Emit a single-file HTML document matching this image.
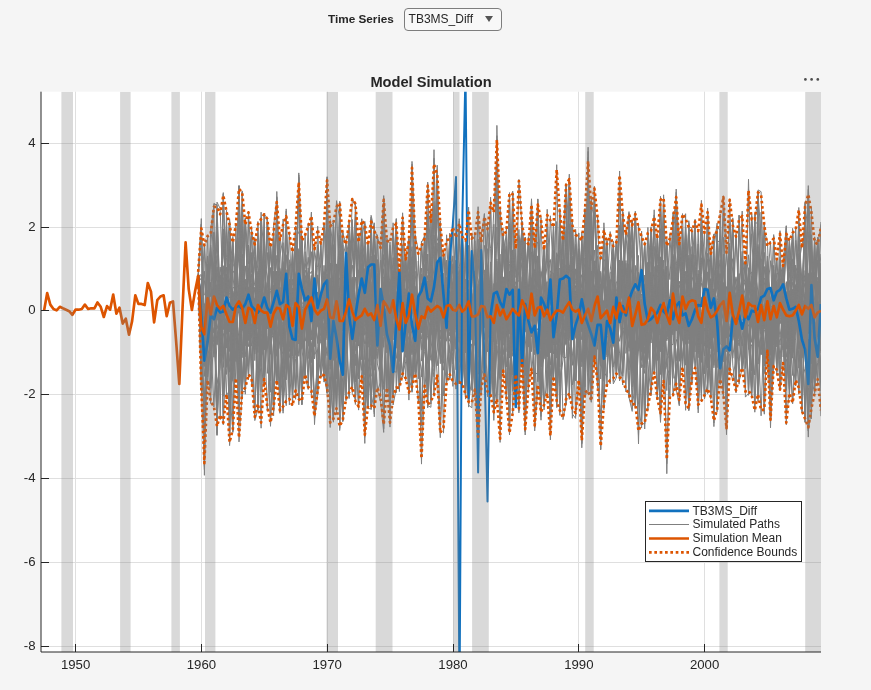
<!DOCTYPE html>
<html><head><meta charset="utf-8"><title>Model Simulation</title>
<style>
html,body{margin:0;padding:0}
body{width:871px;height:690px;background:#f5f5f5;position:relative;overflow:hidden;font-family:"Liberation Sans",Arial,sans-serif}
.lbl{position:absolute;left:328px;top:12px;font-size:11.75px;font-weight:bold;color:#262626;line-height:14px;white-space:nowrap}
.dd{position:absolute;left:404px;top:8px;width:96px;height:21px;border:1px solid #7d7d7d;border-radius:4px;background:#f8f8f8;box-sizing:content-box}
.dd span{position:absolute;left:3.6px;top:3px;font-size:12px;line-height:14px;color:#262626;white-space:nowrap}
.dd i{position:absolute;left:80px;top:7.3px;width:0;height:0;border-left:4.6px solid transparent;border-right:4.6px solid transparent;border-top:6.4px solid #555}
</style></head><body>
<div class="lbl">Time Series</div>
<div class="dd"><span>TB3MS_Diff</span><i></i></div>
<svg width="871" height="690" viewBox="0 0 871 690" style="position:absolute;left:0;top:0">
<defs><clipPath id="ax"><rect x="41.0" y="91.7" width="780.0" height="560.3"/></clipPath></defs>
<rect x="41.0" y="91.7" width="780.0" height="560.3" fill="#fff"/>
<path d="M75.5 91.7V652.0M201.5 91.7V652.0M327.5 91.7V652.0M453.5 91.7V652.0M578.5 91.7V652.0M704.5 91.7V652.0M41.0 646.5H821.0M41.0 562.5H821.0M41.0 478.5H821.0M41.0 394.5H821.0M41.0 310.5H821.0M41.0 227.5H821.0M41.0 143.5H821.0" stroke="#dfdfdf" stroke-width="1" fill="none"/>
<g clip-path="url(#ax)" fill="none" stroke-linejoin="round">
<g stroke="#7f7f7f" stroke-width="1">
<path d="M198.2 275.8l3.1 53.1 3.1 -5.1 3.2 -23 3.1 18.2 3.2 13.3 3.1 -24 3.2 -41.2 3.1 29.4 3.2 -22.4 3.1 44.5 3.2 -2.6 3.1 -11.7 3.1 116.5 3.2 -145.5 3.1 36.2 3.2 -14.4 3.1 74.3 3.2 40.6 3.1 -77.2 3.2 -12.8 3.1 -14.3 3.1 5 3.2 4.3 3.1 12.6 3.2 -27 3.1 1 3.2 31.5 3.1 -112.1 3.2 74.8 3.1 -8.9 3.1 28.5 3.2 9.8 3.1 5.7 3.2 -22.6 3.1 -19.3 3.2 3.7 3.1 25 3.2 20.7 3.1 -22 3.2 -53.1 3.1 56.5 3.1 -7.6 3.2 -4.2 3.1 68.9 3.2 -58.1 3.1 -48.5 3.2 128.6 3.1 -96.6 3.2 7.9 3.1 29 3.2 -32.3 3.1 6.7 3.1 82 3.2 -101 3.1 -0.2 3.2 -6.1 3.1 -30.8 3.2 61.2 3.1 -20.5 3.2 52.7 3.1 -51.7 3.1 14.4 3.2 10.1 3.1 35.7 3.2 -33.7 3.1 2.2 3.2 -57 3.1 116 3.2 -33.4 3.1 -29.3 3.2 -58.1 3.1 38.6 3.1 98.9 3.2 1.7 3.1 -107.8 3.2 21.5 3.1 42.7 3.2 -68.3 3.1 -17.9 3.2 26.5 3.1 2.9 3.1 -2.7 3.2 -65.5 3.1 60.7 3.2 1.2 3.1 -11.4 3.2 95.5 3.1 -113.6 3.2 8.5 3.1 18.4 3.2 77.7 3.1 -45.9 3.1 -44.7 3.2 127.2 3.1 -286.9 3.2 150.7 3.1 69.2 3.2 -99 3.1 51.9 3.2 12.1 3.1 -1.2 3.1 -17.5 3.2 8 3.1 -23.5 3.2 54.8 3.1 -31 3.2 -11.1 3.1 19 3.2 30.3 3.1 -44 3.1 -51.1 3.2 87.8 3.1 23.1 3.2 -42.1 3.1 0.3 3.2 5.4 3.1 -90.7 3.2 110.5 3.1 -73.6 3.2 103.9 3.1 -40.6 3.1 -18 3.2 -41.1 3.1 -1 3.2 47.3 3.1 -9.8 3.2 -9 3.1 14.2 3.2 6.6 3.1 -8.3 3.2 2.4 3.1 -3.4 3.1 -6.4 3.2 -15.2 3.1 -73.3 3.2 96.3 3.1 -2.5 3.2 25.4 3.1 -16.7 3.2 -36.4 3.1 52.4 3.1 -12.4 3.2 -85.5 3.1 163.2 3.2 -56.8 3.1 -18.9 3.2 -17.1 3.1 -3.2 3.2 28.3 3.1 -19.5 3.1 -18.1 3.2 31.6 3.1 -82.8 3.2 52 3.1 30.3 3.2 -18.6 3.1 -0.4 3.2 -1.1 3.1 111.4 3.2 -81.5 3.1 -58 3.1 74.2 3.2 -30 3.1 -28.9 3.2 -0.5 3.1 -49.2 3.2 146.8 3.1 -58 3.2 -30.5 3.1 2.5 3.2 -13.2 3.1 97.6 3.1 -122.5 3.2 106.8 3.1 -87.1 3.2 89.5 3.1 -66.6 3.2 -46.9 3.1 49.1 3.2 11.5 3.1 -30.6 3.1 30.7 3.2 -11.8 3.1 -33.2 3.2 2.4 3.1 36.7 3.2 -86 3.1 125.9 3.2 -62.8 3.1 24.1 3.1 -9.5 3.2 -3 3.1 2.2 3.2 -14 3.1 94.1 3.2 -9.5 3.1 -72.1 3.2 43.5"/>
<path d="M198.2 275.8l3.1 74.4 3.1 75.4 3.2 -161.5 3.1 32.3 3.2 -63.7 3.1 112.4 3.2 -36.3 3.1 50.8 3.2 -69.3 3.1 -47.1 3.2 111.2 3.1 -112.2 3.1 18.5 3.2 48.8 3.1 79.3 3.2 -143.7 3.1 65.1 3.2 27.4 3.1 -38.8 3.2 4.5 3.1 -62.7 3.1 107.8 3.2 -58 3.1 -35.7 3.2 -20.3 3.1 76.4 3.2 27.8 3.1 -127.5 3.2 96.1 3.1 17.8 3.1 -73.3 3.2 58.7 3.1 94.1 3.2 -90 3.1 72.7 3.2 -111 3.1 30.4 3.2 20 3.1 -15.9 3.2 -24.6 3.1 12.7 3.1 -35.5 3.2 55.2 3.1 -54.5 3.2 164.4 3.1 -177 3.2 76.6 3.1 -51.5 3.2 110.8 3.1 -33.1 3.2 53.8 3.1 -131.7 3.1 98.6 3.2 -59.5 3.1 0.2 3.2 4.6 3.1 -2.7 3.2 5.8 3.1 -127.7 3.2 110.2 3.1 -2.1 3.1 -30.3 3.2 47.4 3.1 40.4 3.2 -48.5 3.1 -16.2 3.2 85.1 3.1 -72.8 3.2 -22.5 3.1 23.7 3.2 6.3 3.1 -18.4 3.1 6.9 3.2 50.3 3.1 21.8 3.2 -59.2 3.1 -36.3 3.2 51.2 3.1 -3.1 3.2 -8 3.1 42.5 3.1 -52.6 3.2 31.2 3.1 -35.9 3.2 92.4 3.1 -102.9 3.2 35.1 3.1 59.3 3.2 47.9 3.1 -129.2 3.2 68.1 3.1 -38.4 3.1 -27.8 3.2 20.5 3.1 69.8 3.2 -109.3 3.1 3.9 3.2 18.2 3.1 -72.6 3.2 46.3 3.1 18.5 3.1 104.6 3.2 -133.7 3.1 -9.2 3.2 53.3 3.1 -20.1 3.2 -54.3 3.1 134.7 3.2 -83.7 3.1 -52.4 3.1 91.1 3.2 -36.2 3.1 -74.1 3.2 85.1 3.1 -14.5 3.2 -6.8 3.1 45.3 3.2 -32.9 3.1 3.2 3.2 -14.7 3.1 18.6 3.1 15.8 3.2 18.9 3.1 -30.4 3.2 -27.2 3.1 18.2 3.2 15.5 3.1 32.7 3.2 -130.5 3.1 57.3 3.2 27.7 3.1 76.1 3.1 -6.4 3.2 -87.9 3.1 -65.1 3.2 81.3 3.1 -8 3.2 15.7 3.1 91.5 3.2 -132 3.1 47 3.1 23.8 3.2 -75.9 3.1 -36.9 3.2 120.5 3.1 -14.7 3.2 -30.2 3.1 -111.8 3.2 131.7 3.1 22.8 3.1 -131.9 3.2 50.5 3.1 93.4 3.2 -21.8 3.1 -112.6 3.2 48.2 3.1 -44.2 3.2 49.9 3.1 61.3 3.2 -23.6 3.1 80.3 3.1 -71.3 3.2 -10 3.1 -11.7 3.2 26 3.1 -26 3.2 -14.7 3.1 25.2 3.2 -39.4 3.1 35.3 3.2 15.3 3.1 -39.2 3.1 7.1 3.2 41.6 3.1 -19.4 3.2 -11.6 3.1 106.2 3.2 -92.3 3.1 -14.9 3.2 13.3 3.1 -16.4 3.1 72 3.2 -137.8 3.1 57.8 3.2 3.1 3.1 13.9 3.2 -3.1 3.1 35.3 3.2 60.5 3.1 -93.2 3.1 21.5 3.2 -32.1 3.1 53.8 3.2 83.5 3.1 -91.4 3.2 -88.3 3.1 59.9 3.2 56"/>
<path d="M198.2 275.8l3.1 65.1 3.1 -17.5 3.2 -32 3.1 21.5 3.2 -81 3.1 53.1 3.2 23.8 3.1 -19.8 3.2 -63.8 3.1 62.7 3.2 3.7 3.1 44.8 3.1 -33.2 3.2 -20.2 3.1 42.9 3.2 -57.4 3.1 29.4 3.2 0.5 3.1 9.2 3.2 -95.4 3.1 48.2 3.1 54.7 3.2 11.1 3.1 -100.5 3.2 86.5 3.1 -23.6 3.2 -3.1 3.1 19.5 3.2 46.5 3.1 -27.3 3.1 -26 3.2 -47.8 3.1 56.8 3.2 2.5 3.1 -27.4 3.2 4.7 3.1 21.2 3.2 6 3.1 -1.4 3.2 -20.3 3.1 42.1 3.1 0.3 3.2 -16.7 3.1 58.5 3.2 -46.2 3.1 91.3 3.2 -93.4 3.1 -39.9 3.2 7.3 3.1 24.5 3.2 -0.3 3.1 36 3.1 -131.8 3.2 82.8 3.1 -32.9 3.2 -44.7 3.1 77.4 3.2 90.5 3.1 -120.5 3.2 7.6 3.1 139.2 3.1 -123.1 3.2 2.6 3.1 82.5 3.2 -11.9 3.1 -28.1 3.2 -17.3 3.1 26.6 3.2 -41.5 3.1 12.6 3.2 -21.6 3.1 -2.3 3.1 -120.1 3.2 86.7 3.1 90.6 3.2 -45.4 3.1 44.8 3.2 4.5 3.1 -56.8 3.2 -1.4 3.1 -4.3 3.1 69.1 3.2 -151.1 3.1 93 3.2 -0.9 3.1 -4.5 3.2 10.3 3.1 16.6 3.2 -39.3 3.1 8.1 3.2 5.3 3.1 23.9 3.1 -13.4 3.2 102.6 3.1 -81.9 3.2 -23.3 3.1 39.5 3.2 -37.6 3.1 -4.4 3.2 62.3 3.1 -60.3 3.1 5.5 3.2 -27.3 3.1 3.4 3.2 22 3.1 -3.5 3.2 2.1 3.1 -8.8 3.2 -20.2 3.1 25.4 3.1 14.2 3.2 63.9 3.1 -72.7 3.2 11.9 3.1 24 3.2 -41 3.1 3.4 3.2 -15.8 3.1 -1.8 3.2 20.5 3.1 -87 3.1 96.3 3.2 -59.4 3.1 37.5 3.2 -36.2 3.1 88.4 3.2 -43.6 3.1 0.3 3.2 -14.9 3.1 -60.6 3.2 77.5 3.1 -45.3 3.1 27.5 3.2 -40.1 3.1 39.9 3.2 13.6 3.1 -26.1 3.2 71.1 3.1 -93.4 3.2 85.6 3.1 -29.2 3.1 -80.1 3.2 80 3.1 -13.9 3.2 -41.3 3.1 132.8 3.2 -61.7 3.1 43.8 3.2 -76.2 3.1 1.1 3.1 11.5 3.2 -115.5 3.1 51.6 3.2 42.6 3.1 8.7 3.2 6.3 3.1 -57.2 3.2 60.5 3.1 -14.5 3.2 30.9 3.1 64.3 3.1 -106.2 3.2 -10.2 3.1 36.3 3.2 14 3.1 -47.9 3.2 20 3.1 16.1 3.2 -94.7 3.1 51.1 3.2 118.9 3.1 -177.6 3.1 80.3 3.2 8.4 3.1 14.5 3.2 -12.4 3.1 99.3 3.2 -211.4 3.1 42.4 3.2 129.5 3.1 -28 3.1 65.4 3.2 -130 3.1 49.1 3.2 -19 3.1 9.1 3.2 4 3.1 32.6 3.2 54.3 3.1 -45.3 3.1 -150.6 3.2 103.6 3.1 -15.2 3.2 16.5 3.1 24.7 3.2 -21 3.1 3.6 3.2 96.5"/>
<path d="M198.2 275.8l3.1 27.8 3.1 31.8 3.2 -28.6 3.1 25.3 3.2 0.7 3.1 -20.2 3.2 -8.2 3.1 -11.6 3.2 7.1 3.1 -78.2 3.2 122.1 3.1 -37.9 3.1 136 3.2 -50.3 3.1 -60.8 3.2 48.8 3.1 -71.1 3.2 8.1 3.1 -8.4 3.2 120 3.1 -115.9 3.1 -21.9 3.2 133 3.1 -82.1 3.2 -33.5 3.1 40.4 3.2 5.6 3.1 -63.6 3.2 33.8 3.1 -10.8 3.1 -27.2 3.2 114.4 3.1 -82.1 3.2 -8.1 3.1 48.4 3.2 -61 3.1 6.3 3.2 20 3.1 -12.8 3.2 -21.3 3.1 35.4 3.1 -23.6 3.2 -79.4 3.1 93.5 3.2 3.7 3.1 3.1 3.2 -62.4 3.1 35.2 3.2 -18.2 3.1 58.8 3.2 -18.6 3.1 -1.9 3.1 116.6 3.2 -164.7 3.1 18 3.2 118.9 3.1 -114 3.2 36.4 3.1 -34.9 3.2 9.9 3.1 91.5 3.1 -90.3 3.2 -53.2 3.1 88.3 3.2 -7.8 3.1 27.2 3.2 -2.1 3.1 -67.8 3.2 -39.7 3.1 74.3 3.2 -8 3.1 -78.9 3.1 83.6 3.2 9.7 3.1 -37.6 3.2 -2.3 3.1 66.6 3.2 15.1 3.1 -67.2 3.2 -0.3 3.1 48.4 3.1 -38.6 3.2 2.6 3.1 -82.5 3.2 77 3.1 -7.8 3.2 20 3.1 -37.9 3.2 -35.4 3.1 62.9 3.2 -29.4 3.1 52.3 3.1 -18.4 3.2 -18 3.1 -115.9 3.2 142.2 3.1 -14.2 3.2 -82.4 3.1 173.6 3.2 -92.4 3.1 15.5 3.1 -18.1 3.2 21.3 3.1 103.8 3.2 -113.2 3.1 -27.7 3.2 39.6 3.1 -53.2 3.2 34.4 3.1 19 3.1 -30.4 3.2 111.8 3.1 -85.4 3.2 -15.5 3.1 -27.5 3.2 31.1 3.1 -13.5 3.2 17.8 3.1 -12.9 3.2 -61.3 3.1 138.7 3.1 -147.3 3.2 158.8 3.1 -1.5 3.2 -74.2 3.1 -57.9 3.2 80.7 3.1 108.3 3.2 -148.8 3.1 -7.1 3.2 14.3 3.1 -67.3 3.1 75.2 3.2 -17.7 3.1 -18.7 3.2 27.4 3.1 -82.8 3.2 143 3.1 -46.8 3.2 123.2 3.1 -141.9 3.1 28.6 3.2 -39.2 3.1 -63.1 3.2 83.3 3.1 14 3.2 -2.5 3.1 1.3 3.2 15.2 3.1 -30.4 3.1 -15.6 3.2 19.5 3.1 -70.6 3.2 28 3.1 28.3 3.2 4.8 3.1 -16 3.2 14.6 3.1 55.5 3.2 -117.2 3.1 50.5 3.1 45.7 3.2 -46.1 3.1 20 3.2 -82.8 3.1 2 3.2 65.5 3.1 5 3.2 -9.7 3.1 24.8 3.2 60.1 3.1 -96.7 3.1 16.7 3.2 25 3.1 -24.4 3.2 9.4 3.1 -15.8 3.2 37.2 3.1 -21.7 3.2 107.2 3.1 -106.9 3.1 -0.9 3.2 -39.3 3.1 55.4 3.2 -16.7 3.1 -29.5 3.2 46.7 3.1 -21.4 3.2 -57.6 3.1 68.3 3.1 -54.8 3.2 78.7 3.1 -31 3.2 6 3.1 -5.2 3.2 -20.9 3.1 -43.1 3.2 88.8"/>
<path d="M198.2 275.8l3.1 59.7 3.1 -11.2 3.2 7.1 3.1 -26 3.2 -21.6 3.1 26.3 3.2 -13.2 3.1 99.4 3.2 -186.1 3.1 204.6 3.2 -71.5 3.1 -27.5 3.1 -3.9 3.2 -36.8 3.1 47.3 3.2 -9.4 3.1 -13.4 3.2 -39.6 3.1 45 3.2 -0.4 3.1 -44.2 3.1 48.5 3.2 71.8 3.1 -154.1 3.2 -28.9 3.1 214.5 3.2 -193.2 3.1 78.6 3.2 -15.3 3.1 29.7 3.1 -5.3 3.2 37.3 3.1 -16.1 3.2 -47.3 3.1 58.7 3.2 -6 3.1 -23.5 3.2 81.8 3.1 -78.5 3.2 1.7 3.1 -26.7 3.1 50.4 3.2 9.6 3.1 -38.7 3.2 11.9 3.1 17.9 3.2 -27.6 3.1 -29.7 3.2 -25.6 3.1 -42.3 3.2 125 3.1 -18.5 3.1 122.9 3.2 -198.9 3.1 88.6 3.2 -12.9 3.1 -23.3 3.2 73.1 3.1 -78.9 3.2 14.9 3.1 116.8 3.1 -125.8 3.2 -25.5 3.1 116.6 3.2 -106.8 3.1 40 3.2 -13.7 3.1 -24.6 3.2 -11.7 3.1 59.3 3.2 -34.8 3.1 27.9 3.1 -42.8 3.2 53.9 3.1 -25.3 3.2 -126.5 3.1 117.2 3.2 18.8 3.1 22.2 3.2 -19 3.1 -14.3 3.1 -21.4 3.2 11.5 3.1 4.4 3.2 6.5 3.1 -63.6 3.2 77.5 3.1 3.3 3.2 -42.4 3.1 22 3.2 4 3.1 18.3 3.1 -8.8 3.2 -14.5 3.1 -10.1 3.2 83.5 3.1 -74.8 3.2 14.1 3.1 40.7 3.2 -76.5 3.1 33.6 3.1 5.5 3.2 -39.1 3.1 -43.5 3.2 93.7 3.1 -46.2 3.2 62.1 3.1 -148.4 3.2 119.3 3.1 -35.4 3.1 41.2 3.2 -30 3.1 -70.8 3.2 184 3.1 -88 3.2 -15.2 3.1 3.1 3.2 11.6 3.1 -96.7 3.2 88.8 3.1 58.9 3.1 -70.4 3.2 87.1 3.1 -147 3.2 92.8 3.1 -28.3 3.2 81.5 3.1 -68.2 3.2 54.4 3.1 4.9 3.2 -97.1 3.1 101.5 3.1 -48.7 3.2 -65.8 3.1 33.9 3.2 -1.8 3.1 98.8 3.2 -68.2 3.1 -46 3.2 2.4 3.1 12.7 3.1 130.4 3.2 -111.4 3.1 -18.2 3.2 -89.6 3.1 138.6 3.2 -31.1 3.1 -14.3 3.2 -8.4 3.1 35.9 3.1 -71.2 3.2 71.5 3.1 -10.9 3.2 -14.6 3.1 2 3.2 15.7 3.1 40.9 3.2 -96.8 3.1 45.1 3.2 21.4 3.1 -37.7 3.1 -21.5 3.2 71.2 3.1 -29.3 3.2 -15.9 3.1 -6.6 3.2 12.8 3.1 124.9 3.2 -188.2 3.1 66.2 3.2 14.3 3.1 -10.3 3.1 -20.9 3.2 31.1 3.1 13 3.2 -11 3.1 -111.7 3.2 119.5 3.1 21.3 3.2 -50.9 3.1 26.3 3.1 -25 3.2 23.4 3.1 -15 3.2 -54.2 3.1 49.3 3.2 29.8 3.1 -99.1 3.2 74.8 3.1 61.7 3.1 -57.8 3.2 -4.8 3.1 4.1 3.2 -9.2 3.1 -23.4 3.2 14.9 3.1 -8.4 3.2 6.9"/>
<path d="M198.2 275.8l3.1 53.6 3.1 4.9 3.2 -32.6 3.1 17.2 3.2 -20.2 3.1 119.1 3.2 -103 3.1 -8.8 3.2 36.6 3.1 -20.5 3.2 -9.6 3.1 -5.3 3.1 -121.5 3.2 211.5 3.1 -72.6 3.2 50.1 3.1 -92.5 3.2 -44.5 3.1 172.9 3.2 -100.9 3.1 -9 3.1 16.4 3.2 -1 3.1 94.6 3.2 -132.5 3.1 25.9 3.2 15 3.1 0.2 3.2 -24.1 3.1 39.2 3.1 -33.5 3.2 16.8 3.1 86.4 3.2 -94.3 3.1 -7.6 3.2 -23.3 3.1 62.1 3.2 -26.5 3.1 -14.7 3.2 7.8 3.1 -71.6 3.1 -11.2 3.2 124.9 3.1 60 3.2 -122.1 3.1 -30.3 3.2 -14.1 3.1 36.1 3.2 44.5 3.1 13.1 3.2 -42.2 3.1 39.9 3.1 100.4 3.2 -86.5 3.1 -133.2 3.2 14.6 3.1 91.2 3.2 20 3.1 -42.9 3.2 26.2 3.1 102.7 3.1 -126.3 3.2 47.4 3.1 -52.9 3.2 18.2 3.1 -57.4 3.2 59.3 3.1 -16 3.2 10.1 3.1 33 3.2 116.5 3.1 -70.4 3.1 -27.9 3.2 -28.5 3.1 64 3.2 -90.6 3.1 -8.9 3.2 20 3.1 8.2 3.2 -5.6 3.1 -96.9 3.1 89.6 3.2 71.6 3.1 -81.3 3.2 7.4 3.1 -6.6 3.2 -12.4 3.1 102.3 3.2 -101 3.1 4.6 3.2 7.9 3.1 -38.3 3.1 61.4 3.2 1.1 3.1 0.4 3.2 -120.3 3.1 43.2 3.2 -17.6 3.1 80 3.2 -21.7 3.1 -11 3.1 -0.7 3.2 -18.6 3.1 111.4 3.2 -43.6 3.1 -45 3.2 -15.7 3.1 37.5 3.2 29.8 3.1 73.1 3.1 -85 3.2 28 3.1 -102.5 3.2 75.2 3.1 -15 3.2 -72.7 3.1 -54.3 3.2 111.5 3.1 30.4 3.2 -20.1 3.1 -56.8 3.1 60.7 3.2 -51.3 3.1 49.7 3.2 -0.1 3.1 -0.4 3.2 -17.5 3.1 -5.9 3.2 91.1 3.1 -64 3.2 9.2 3.1 -3.1 3.1 4 3.2 -49.1 3.1 -59.8 3.2 87.4 3.1 -6.6 3.2 94.1 3.1 -174.2 3.2 89 3.1 23.1 3.1 42.9 3.2 -48.4 3.1 23.6 3.2 -31.8 3.1 3.2 3.2 -2.9 3.1 -12.8 3.2 57 3.1 41.8 3.1 -85.7 3.2 72.3 3.1 -59.5 3.2 -11.7 3.1 31.4 3.2 -35.4 3.1 -11.7 3.2 36.6 3.1 -16.4 3.2 -74.1 3.1 41.8 3.1 25.8 3.2 5.7 3.1 -0.2 3.2 -5.5 3.1 -25.6 3.2 16.6 3.1 132.8 3.2 -141.9 3.1 40.9 3.2 -25.3 3.1 13 3.1 -26.9 3.2 -33.5 3.1 76.9 3.2 8.2 3.1 28.9 3.2 -185.1 3.1 1.8 3.2 122.1 3.1 -4 3.1 110.6 3.2 -71.2 3.1 -41.3 3.2 15.9 3.1 -10.5 3.2 -2.5 3.1 -41.4 3.2 -37.6 3.1 47.2 3.1 24.7 3.2 9.4 3.1 -106.6 3.2 25 3.1 78.7 3.2 -0.2 3.1 -0.5 3.2 1"/>
<path d="M198.2 275.8l3.1 57.8 3.1 77.3 3.2 -102.1 3.1 73 3.2 -131.9 3.1 42.6 3.2 70.1 3.1 -128.4 3.2 49 3.1 162.4 3.2 -203.4 3.1 42.8 3.1 -99.1 3.2 165.3 3.1 -40.6 3.2 -10.9 3.1 8.2 3.2 13.6 3.1 -48.8 3.2 119.5 3.1 -178.6 3.1 159.8 3.2 -33.6 3.1 -11.7 3.2 -27.4 3.1 5.4 3.2 13 3.1 4.1 3.2 -7 3.1 -15.4 3.1 -15.5 3.2 -108.3 3.1 155.5 3.2 -80.9 3.1 65 3.2 -33.5 3.1 135 3.2 -23.1 3.1 -102.2 3.2 45.5 3.1 -83.7 3.1 60.5 3.2 84.3 3.1 -115.7 3.2 69.3 3.1 -79.2 3.2 126.1 3.1 -178.8 3.2 85.7 3.1 17.9 3.2 -10.2 3.1 9.1 3.1 -30.6 3.2 -48.2 3.1 66.3 3.2 105.7 3.1 -143.3 3.2 52.2 3.1 96.7 3.2 -116.9 3.1 0 3.1 -35.4 3.2 77.9 3.1 -64 3.2 20.3 3.1 -48.8 3.2 61 3.1 -46.1 3.2 47.1 3.1 42.3 3.2 -73.7 3.1 7.3 3.1 -79.2 3.2 7.4 3.1 99.5 3.2 44.7 3.1 -35.8 3.2 8 3.1 -12.2 3.2 -30.5 3.1 9.9 3.1 8.4 3.2 -10.1 3.1 9.1 3.2 -5.6 3.1 -26.4 3.2 9 3.1 40.9 3.2 74.3 3.1 -141.7 3.2 43 3.1 -27.3 3.1 105.1 3.2 -56 3.1 -192.2 3.2 264.1 3.1 -82.8 3.2 84.3 3.1 -137.6 3.2 -48 3.1 159.1 3.1 1.4 3.2 -85 3.1 -6.3 3.2 31.7 3.1 20.4 3.2 -37.9 3.1 -16.8 3.2 12.9 3.1 30.7 3.1 -20.8 3.2 -9.6 3.1 27.4 3.2 78.4 3.1 -96.1 3.2 -0.3 3.1 2 3.2 -41.8 3.1 59.3 3.2 -12.2 3.1 1 3.1 -2 3.2 -81.4 3.1 81.9 3.2 -106.1 3.1 11.5 3.2 60 3.1 32.2 3.2 -76.9 3.1 79.7 3.2 11.3 3.1 12.6 3.1 -25.6 3.2 -85.1 3.1 74 3.2 6.6 3.1 -6.1 3.2 24.1 3.1 50.6 3.2 -102.2 3.1 60.5 3.1 34.1 3.2 -28 3.1 -9.4 3.2 -44.6 3.1 3.8 3.2 85.8 3.1 -105.3 3.2 25.3 3.1 39.9 3.1 32.6 3.2 22 3.1 16.8 3.2 -114.2 3.1 23.3 3.2 95.9 3.1 -112.6 3.2 53.9 3.1 -62.3 3.2 72.6 3.1 -45.6 3.1 15.2 3.2 -4.3 3.1 -57.5 3.2 18.1 3.1 2.6 3.2 4.8 3.1 -44.3 3.2 50.6 3.1 21 3.2 24.5 3.1 -47.5 3.1 11.6 3.2 20.9 3.1 5.3 3.2 59.7 3.1 -104.7 3.2 -48.4 3.1 58.5 3.2 48.8 3.1 3.7 3.1 -37.7 3.2 48.4 3.1 -51.5 3.2 -33.9 3.1 -2.3 3.2 -47.4 3.1 92.4 3.2 -41.1 3.1 8.9 3.1 77 3.2 -46.1 3.1 97.5 3.2 -109.8 3.1 -18.2 3.2 57 3.1 32.3 3.2 -118.1"/>
<path d="M198.2 275.8l3.1 44 3.1 -48.6 3.2 75.7 3.1 -65.2 3.2 -77.4 3.1 0.4 3.2 106.8 3.1 -9.9 3.2 14.1 3.1 -29.5 3.2 4.6 3.1 14.7 3.1 80.3 3.2 -103.4 3.1 47.1 3.2 -37.6 3.1 14.9 3.2 -49.7 3.1 11.1 3.2 53.1 3.1 -14.8 3.1 -84.3 3.2 116.8 3.1 -32.7 3.2 -50.9 3.1 15.9 3.2 36.5 3.1 53.8 3.2 -4 3.1 -34.4 3.1 -25.7 3.2 -124.6 3.1 176.3 3.2 -73.7 3.1 10.3 3.2 93.7 3.1 -42 3.2 -111.3 3.1 91.5 3.2 -7.9 3.1 -22.6 3.1 57.1 3.2 -35.7 3.1 10.9 3.2 15.3 3.1 -24.5 3.2 13.8 3.1 -28.1 3.2 -76.5 3.1 100.5 3.2 -1.5 3.1 -23.8 3.1 22.5 3.2 -31.4 3.1 79.5 3.2 -59.7 3.1 9.2 3.2 28.9 3.1 -140.9 3.2 126 3.1 -83.6 3.1 41.9 3.2 -34.4 3.1 97.4 3.2 -89.7 3.1 18.1 3.2 37.6 3.1 -20.4 3.2 -60 3.1 91.4 3.2 1.3 3.1 1.2 3.1 -34 3.2 11 3.1 -0.6 3.2 -121.9 3.1 130.7 3.2 -3.9 3.1 -50.8 3.2 70.7 3.1 -53.5 3.1 -39.9 3.2 115.1 3.1 -9.7 3.2 -0.4 3.1 59.9 3.2 -93.4 3.1 81.1 3.2 -87.1 3.1 -41.1 3.2 101.3 3.1 -42 3.1 75.1 3.2 -99.9 3.1 29.3 3.2 -5.4 3.1 -10.7 3.2 -1.9 3.1 14.1 3.2 -12.9 3.1 11.9 3.1 -6.6 3.2 15.2 3.1 -22.6 3.2 81.9 3.1 -86.7 3.2 -54.7 3.1 60.1 3.2 57 3.1 -50.4 3.1 25.2 3.2 80.9 3.1 -92 3.2 -48.2 3.1 23.8 3.2 9.7 3.1 23.4 3.2 3.7 3.1 -82.4 3.2 51 3.1 24.6 3.1 110.5 3.2 -80.3 3.1 -212.4 3.2 206.9 3.1 -52.1 3.2 -11.7 3.1 25.7 3.2 -2 3.1 38.7 3.2 -11 3.1 -93.5 3.1 78.5 3.2 -63.1 3.1 104.8 3.2 -56.9 3.1 -21.3 3.2 -7.9 3.1 68 3.2 -63.7 3.1 27.6 3.1 27.1 3.2 -35.4 3.1 22.8 3.2 -6 3.1 -3.9 3.2 99.4 3.1 -118.6 3.2 64.6 3.1 6.3 3.1 -72.3 3.2 -16 3.1 42.6 3.2 -77.8 3.1 152.5 3.2 -39.4 3.1 -117.8 3.2 48.6 3.1 -7.3 3.2 55.9 3.1 -62.6 3.1 25 3.2 0 3.1 9.2 3.2 -45 3.1 47.8 3.2 15.3 3.1 64.3 3.2 -149 3.1 79.8 3.2 21.7 3.1 -17.1 3.1 -30.8 3.2 56 3.1 -51.2 3.2 13.7 3.1 -0.9 3.2 26.9 3.1 -41.9 3.2 24 3.1 -28.2 3.1 15.8 3.2 -14.5 3.1 69.8 3.2 -57.7 3.1 9 3.2 -27.1 3.1 81.9 3.2 -44.3 3.1 -19.7 3.1 -4.1 3.2 -19.5 3.1 26.1 3.2 -127 3.1 188.5 3.2 15.5 3.1 -116.1 3.2 25.9"/>
<path d="M198.2 275.8l3.1 40.2 3.1 17.3 3.2 -41.6 3.1 67.6 3.2 -93 3.1 54 3.2 -45.5 3.1 30.5 3.2 90.4 3.1 -5.7 3.2 41.1 3.1 -124.2 3.1 4.7 3.2 -7.6 3.1 24.5 3.2 -11.9 3.1 -7.5 3.2 12.7 3.1 -76.8 3.2 65.5 3.1 -97 3.1 5.5 3.2 34.4 3.1 27 3.2 26.2 3.1 1.3 3.2 100.7 3.1 -82.9 3.2 -17.5 3.1 31.3 3.1 -101.7 3.2 53.3 3.1 44.2 3.2 39.9 3.1 14.3 3.2 -84.3 3.1 49.5 3.2 -5.4 3.1 28.1 3.2 -80.5 3.1 2.8 3.1 -80.2 3.2 98.8 3.1 -15.5 3.2 -62.9 3.1 80.1 3.2 -9.6 3.1 -4.7 3.2 17.7 3.1 -88.6 3.2 7.5 3.1 -14.2 3.1 88.5 3.2 -1.3 3.1 25.5 3.2 -51.7 3.1 69.4 3.2 -43.6 3.1 -57.2 3.2 5 3.1 86.3 3.1 -79.8 3.2 -47.8 3.1 121.5 3.2 2 3.1 -51.9 3.2 -42.1 3.1 57.8 3.2 18.7 3.1 5.3 3.2 -91.5 3.1 47.5 3.1 30.9 3.2 80.8 3.1 -75.4 3.2 -83.8 3.1 -16.4 3.2 96.7 3.1 -86.7 3.2 78.4 3.1 68.5 3.1 -93.9 3.2 49.8 3.1 -56.6 3.2 106 3.1 -30.2 3.2 -43.9 3.1 20.5 3.2 -43.7 3.1 16.3 3.2 33.6 3.1 -36.8 3.1 -17.7 3.2 128.1 3.1 -273.6 3.2 164.2 3.1 -11.2 3.2 105 3.1 -58.2 3.2 -24.2 3.1 -29.2 3.1 94.5 3.2 -62.3 3.1 113.8 3.2 -111.5 3.1 -32.2 3.2 -44.4 3.1 75.6 3.2 -22.8 3.1 -33.9 3.1 29.5 3.2 33.4 3.1 18.9 3.2 -179.9 3.1 164.3 3.2 -17.5 3.1 -4.4 3.2 -112.9 3.1 219.8 3.2 4.4 3.1 -165 3.1 41.7 3.2 19.5 3.1 11.4 3.2 75.5 3.1 -76.2 3.2 -53.5 3.1 78.8 3.2 16.5 3.1 -58 3.2 10.9 3.1 -22.7 3.1 7.3 3.2 75.2 3.1 -49.7 3.2 -45.1 3.1 47 3.2 -26.1 3.1 6.6 3.2 -12.8 3.1 -5.6 3.1 29.8 3.2 -42.8 3.1 4.2 3.2 25.2 3.1 23 3.2 1.2 3.1 -21.9 3.2 6.1 3.1 5 3.1 -111.6 3.2 81.2 3.1 10.9 3.2 12.2 3.1 11.7 3.2 -20.5 3.1 -9 3.2 28.5 3.1 -97 3.2 103.4 3.1 -63.2 3.1 122.4 3.2 -75.6 3.1 -5.2 3.2 -3.2 3.1 -18 3.2 6 3.1 23 3.2 49.7 3.1 -41.9 3.2 -94.4 3.1 62.2 3.1 -3.9 3.2 27.4 3.1 7.2 3.2 -7.2 3.1 -99.7 3.2 -18.6 3.1 104.6 3.2 -38.8 3.1 74.9 3.1 79.7 3.2 -108.7 3.1 20.3 3.2 -17.7 3.1 -51.8 3.2 -37.5 3.1 104.6 3.2 -15.1 3.1 -7.9 3.1 -2.2 3.2 -12.3 3.1 -84 3.2 163.2 3.1 -68.5 3.2 16.7 3.1 -12 3.2 -86.2"/>
<path d="M198.2 275.8l3.1 109.5 3.1 84.4 3.2 -179 3.1 22 3.2 -16.6 3.1 137.1 3.2 -117.1 3.1 16.5 3.2 34.8 3.1 -7.3 3.2 -54 3.1 -10.8 3.1 6 3.2 -7.2 3.1 38.9 3.2 -25.5 3.1 2.1 3.2 2.7 3.1 -6.9 3.2 6.8 3.1 1.2 3.1 15.6 3.2 -85.2 3.1 60 3.2 -5.2 3.1 -62.3 3.2 21 3.1 122.6 3.2 -86.7 3.1 12.4 3.1 -79.7 3.2 7.8 3.1 2.5 3.2 105 3.1 -13.1 3.2 -33.8 3.1 8.5 3.2 40.7 3.1 -28.2 3.2 -1.3 3.1 -15 3.1 13 3.2 10.6 3.1 35.3 3.2 -99.7 3.1 -5.7 3.2 59.8 3.1 -42.6 3.2 31.5 3.1 -2.2 3.2 10.3 3.1 20.3 3.1 -32.9 3.2 -7.6 3.1 52.5 3.2 -112 3.1 7.1 3.2 11.1 3.1 -49.8 3.2 93.4 3.1 27.6 3.1 -3.9 3.2 21.8 3.1 54.7 3.2 -88.4 3.1 7.9 3.2 83 3.1 -232.7 3.2 75.6 3.1 91.6 3.2 -25.6 3.1 87.7 3.1 -88.7 3.2 11.9 3.1 -4.2 3.2 14.4 3.1 -17.9 3.2 11.1 3.1 -14.8 3.2 22.1 3.1 -15 3.1 0.9 3.2 -18.2 3.1 48.9 3.2 -38.2 3.1 -34.3 3.2 35.7 3.1 16.9 3.2 6.6 3.1 -19.3 3.2 -21.1 3.1 -38.8 3.1 68.9 3.2 20.8 3.1 -44.9 3.2 19.3 3.1 16 3.2 7.5 3.1 -21 3.2 -27.9 3.1 55.9 3.1 69.6 3.2 -121.1 3.1 78.6 3.2 -52.8 3.1 -29.4 3.2 28.2 3.1 20.7 3.2 -29.9 3.1 14.1 3.1 -17 3.2 -88.5 3.1 61.4 3.2 113.3 3.1 -178.4 3.2 100.5 3.1 -47.7 3.2 51.7 3.1 -18 3.2 -68 3.1 63.1 3.1 -48.4 3.2 76.1 3.1 -163.6 3.2 189.1 3.1 -82.2 3.2 -8.3 3.1 61.7 3.2 37.1 3.1 -49.7 3.2 -23.7 3.1 -0.8 3.1 17.6 3.2 79 3.1 -53.1 3.2 -64 3.1 86.9 3.2 -67.2 3.1 -66.9 3.2 71.5 3.1 0.7 3.1 44 3.2 35.1 3.1 28.9 3.2 -80.4 3.1 10 3.2 -33.7 3.1 14.8 3.2 9.6 3.1 2.8 3.1 -22.9 3.2 -97.1 3.1 119.1 3.2 55 3.1 -59.5 3.2 8.6 3.1 63.1 3.2 -82.8 3.1 53.2 3.2 -19.6 3.1 -35 3.1 18.4 3.2 -26.7 3.1 75 3.2 -63.5 3.1 1.9 3.2 42.7 3.1 -25.6 3.2 -27.6 3.1 11 3.2 25.9 3.1 -23.9 3.1 62.5 3.2 -20.2 3.1 -72.9 3.2 -3.8 3.1 34.1 3.2 27.1 3.1 -74.3 3.2 153.2 3.1 -98.2 3.1 -9 3.2 -10.8 3.1 -35.3 3.2 131.6 3.1 -111 3.2 34.9 3.1 25.7 3.2 -24.7 3.1 -29.7 3.1 108.7 3.2 -109 3.1 -1.2 3.2 146.6 3.1 -147.5 3.2 108.8 3.1 -110.7 3.2 23"/>
<path d="M198.2 275.8l3.1 -51.8 3.1 130.7 3.2 -56.3 3.1 -16 3.2 33.1 3.1 -113.4 3.2 6.6 3.1 97.8 3.2 41.6 3.1 -36.6 3.2 0.1 3.1 -6 3.1 -106.3 3.2 113.1 3.1 -46.5 3.2 50.7 3.1 -24.6 3.2 126.2 3.1 -115.1 3.2 9.7 3.1 7.2 3.1 7.5 3.2 5 3.1 0.6 3.2 49.9 3.1 -58.7 3.2 6.5 3.1 -14 3.2 28 3.1 -18.1 3.1 -42.2 3.2 25.6 3.1 26.5 3.2 -73.1 3.1 13.1 3.2 -5.2 3.1 9.8 3.2 37.4 3.1 -7.2 3.2 -39.8 3.1 39.6 3.1 7.1 3.2 -6.8 3.1 -16.7 3.2 30.6 3.1 -34.5 3.2 22.4 3.1 -30.4 3.2 -17.8 3.1 33.9 3.2 2 3.1 43.3 3.1 38 3.2 25.8 3.1 -104.1 3.2 -49.3 3.1 93.1 3.2 -102.7 3.1 90.8 3.2 -12.2 3.1 -6.6 3.1 -31.2 3.2 30.7 3.1 -15.8 3.2 27.6 3.1 -24.7 3.2 -12.7 3.1 3.2 3.2 11.7 3.1 32.5 3.2 38.5 3.1 -53.3 3.1 84.3 3.2 -195.3 3.1 105.5 3.2 -125.5 3.1 113.2 3.2 8.3 3.1 -22.7 3.2 30.4 3.1 -38.2 3.1 22 3.2 56.9 3.1 -62.5 3.2 -0.4 3.1 -7.1 3.2 -38.8 3.1 68.7 3.2 -20 3.1 -10.7 3.2 36 3.1 -54.6 3.1 97.9 3.2 3.3 3.1 -89.4 3.2 82.9 3.1 -57.5 3.2 75.8 3.1 -72.1 3.2 42.3 3.1 -47.5 3.1 77.4 3.2 -93 3.1 18.5 3.2 6.3 3.1 -24 3.2 20.6 3.1 38.8 3.2 66.8 3.1 -103.9 3.1 20.9 3.2 -6 3.1 -24.3 3.2 95.7 3.1 -68.8 3.2 -4.5 3.1 14.9 3.2 -48.8 3.1 -73.1 3.2 116 3.1 -3.3 3.1 -33.2 3.2 27.6 3.1 -42.4 3.2 -82.6 3.1 152.7 3.2 -24.5 3.1 -14.4 3.2 -8.8 3.1 -14.7 3.2 -63.1 3.1 51.6 3.1 38.8 3.2 -16.9 3.1 -16.8 3.2 30.9 3.1 -55.4 3.2 125.8 3.1 17.7 3.2 -102.7 3.1 120.5 3.1 -129.5 3.2 19.2 3.1 -7 3.2 29.3 3.1 -6.6 3.2 -101.9 3.1 95.3 3.2 149.8 3.1 -129.4 3.1 0.3 3.2 -30.3 3.1 14.4 3.2 -10 3.1 16.2 3.2 -62.6 3.1 81.5 3.2 -133.4 3.1 188.9 3.2 -53 3.1 -74.6 3.1 14.5 3.2 52.6 3.1 -51.1 3.2 112.1 3.1 -80.9 3.2 -74.6 3.1 70.6 3.2 11.7 3.1 -32.7 3.2 -7.7 3.1 85.5 3.1 -13.7 3.2 -46.2 3.1 -28.1 3.2 -8 3.1 -66.4 3.2 105.3 3.1 -8.4 3.2 4 3.1 -46.9 3.1 79.3 3.2 -85.7 3.1 107.9 3.2 -89 3.1 34 3.2 -12.4 3.1 -5.9 3.2 56.7 3.1 -47.1 3.1 -9.2 3.2 2.6 3.1 38.2 3.2 9.1 3.1 57.9 3.2 -172.9 3.1 77.2 3.2 -0.5"/>
<path d="M198.2 275.8l3.1 95.4 3.1 -65.9 3.2 3.5 3.1 -49.1 3.2 11.7 3.1 33.6 3.2 -16.4 3.1 68.8 3.2 -38.6 3.1 20.5 3.2 41.9 3.1 -75.3 3.1 -2.8 3.2 -73.7 3.1 164.8 3.2 -73.9 3.1 11.3 3.2 -91.1 3.1 57.7 3.2 5.3 3.1 9 3.1 9.8 3.2 -4.4 3.1 -9.7 3.2 72.3 3.1 -67.9 3.2 61.8 3.1 -22.5 3.2 -45.1 3.1 18.7 3.1 -23.1 3.2 31.6 3.1 -3.7 3.2 -0.2 3.1 -31.6 3.2 -16.9 3.1 -29.9 3.2 16 3.1 59.2 3.2 -11.6 3.1 12.9 3.1 -15.4 3.2 -91.8 3.1 60.9 3.2 148.6 3.1 -55.8 3.2 -13.3 3.1 -71.3 3.2 21.5 3.1 3 3.2 -71 3.1 88.1 3.1 12.1 3.2 -99.8 3.1 64 3.2 33.4 3.1 48.2 3.2 12.3 3.1 30.5 3.2 -126.7 3.1 6.7 3.1 -89.6 3.2 97.2 3.1 21 3.2 -22.3 3.1 -60 3.2 -20.2 3.1 53.8 3.2 21.1 3.1 3 3.2 11.2 3.1 -18.4 3.1 -33.8 3.2 37.5 3.1 4.3 3.2 -9.8 3.1 43.8 3.2 -31.1 3.1 -10.5 3.2 -6.3 3.1 83.1 3.1 -118.2 3.2 44 3.1 -12.3 3.2 5.7 3.1 -25.4 3.2 36.1 3.1 -3.1 3.2 13.7 3.1 -1 3.2 -45.2 3.1 -14 3.1 28.9 3.2 17.4 3.1 -14.4 3.2 28.5 3.1 42.7 3.2 -66.8 3.1 8.6 3.2 11.3 3.1 11.1 3.1 -93.6 3.2 120 3.1 -117.6 3.2 62.7 3.1 -105.9 3.2 138.8 3.1 -30.5 3.2 11.2 3.1 -3.8 3.1 -3.4 3.2 34.2 3.1 -67.9 3.2 54.5 3.1 -10.4 3.2 -19.5 3.1 15.9 3.2 -8.4 3.1 -5.9 3.2 14 3.1 29 3.1 -23.6 3.2 -6.3 3.1 -143.2 3.2 181.1 3.1 -90.4 3.2 52.4 3.1 8.9 3.2 -6.9 3.1 -11.4 3.2 -10.3 3.1 -48.7 3.1 78.7 3.2 -100.9 3.1 49.2 3.2 16.4 3.1 27.2 3.2 -24.8 3.1 20.4 3.2 -17.7 3.1 31.2 3.1 -19.5 3.2 -28.2 3.1 -8 3.2 40.1 3.1 -21 3.2 -58 3.1 94.7 3.2 -62.6 3.1 101.2 3.1 -149.2 3.2 77.6 3.1 -29.5 3.2 -52.7 3.1 105.2 3.2 10 3.1 13.5 3.2 -59.7 3.1 36.5 3.2 20.2 3.1 -49.9 3.1 38.8 3.2 -3.7 3.1 1.2 3.2 -84 3.1 -0.6 3.2 61.6 3.1 103.4 3.2 -117.2 3.1 25.2 3.2 4.4 3.1 -20.5 3.1 1.4 3.2 0.4 3.1 -27.3 3.2 31.2 3.1 10.6 3.2 15.3 3.1 -46.2 3.2 75.3 3.1 -56.6 3.1 39.8 3.2 2.9 3.1 -36.6 3.2 -5 3.1 6.5 3.2 -18.2 3.1 80.9 3.2 -56.7 3.1 -8.7 3.1 -27.5 3.2 75.9 3.1 -70.2 3.2 20.4 3.1 -57.9 3.2 35.2 3.1 20.6 3.2 -79.1"/>
<path d="M198.2 275.8l3.1 50.9 3.1 18.6 3.2 -42.1 3.1 40.2 3.2 -46.8 3.1 130.7 3.2 -117.9 3.1 -13 3.2 -19.3 3.1 52.2 3.2 -58.4 3.1 47.9 3.1 -15.9 3.2 88.3 3.1 -53.3 3.2 -13.6 3.1 -68.8 3.2 58 3.1 32.8 3.2 -46.8 3.1 3 3.1 12.9 3.2 -72.3 3.1 74.8 3.2 -1 3.1 86.9 3.2 -84.1 3.1 -62.8 3.2 2.9 3.1 69.2 3.1 -7.1 3.2 -12.7 3.1 -6.5 3.2 2.6 3.1 10.5 3.2 75.4 3.1 -78.9 3.2 -7.6 3.1 72.5 3.2 -23 3.1 -55.2 3.1 -1.8 3.2 63.2 3.1 -58.3 3.2 -14.4 3.1 39.9 3.2 -1.1 3.1 -105.9 3.2 62.1 3.1 -5.6 3.2 68.8 3.1 -107.3 3.1 -17.3 3.2 104.5 3.1 -31.7 3.2 -24.9 3.1 61.5 3.2 7.6 3.1 -39.3 3.2 89.3 3.1 -87.3 3.1 -10.3 3.2 34.6 3.1 -3 3.2 -38.6 3.1 36.2 3.2 -13.2 3.1 -101.9 3.2 114.7 3.1 7.9 3.2 5.4 3.1 -44.1 3.1 25.6 3.2 -11.5 3.1 4.3 3.2 -1.6 3.1 -69.8 3.2 82.2 3.1 -53.3 3.2 23.7 3.1 -24.6 3.1 48.2 3.2 -31.9 3.1 15.4 3.2 26.4 3.1 -24 3.2 19.4 3.1 -0.8 3.2 -57.6 3.1 63.4 3.2 41.6 3.1 19.6 3.1 -60 3.2 14.2 3.1 -32.6 3.2 -3.2 3.1 -59.2 3.2 72.4 3.1 -11.9 3.2 27.1 3.1 -26.4 3.1 -66.8 3.2 20.6 3.1 172.6 3.2 -133 3.1 -70.8 3.2 204.5 3.1 -70.3 3.2 -48.8 3.1 -4.8 3.1 -4.6 3.2 45.7 3.1 -16.1 3.2 -67.2 3.1 102.1 3.2 -100.3 3.1 40.3 3.2 -10.2 3.1 68.6 3.2 -39.1 3.1 -29.9 3.1 104.8 3.2 -192.8 3.1 150.7 3.2 0.8 3.1 -54 3.2 -90 3.1 90.2 3.2 14.1 3.1 -7.7 3.2 12.2 3.1 -8.1 3.1 60.8 3.2 -115.3 3.1 46.4 3.2 3 3.1 1.1 3.2 10 3.1 -8 3.2 -11.7 3.1 -13.9 3.1 -45.5 3.2 72.9 3.1 22.9 3.2 -24.6 3.1 -49.4 3.2 86.5 3.1 -48 3.2 32 3.1 -38.7 3.1 98.7 3.2 -23.5 3.1 -58 3.2 -13.5 3.1 12.8 3.2 -40.7 3.1 49.4 3.2 -16.7 3.1 9.7 3.2 -1.3 3.1 -5.5 3.1 -34.2 3.2 -22.8 3.1 71.9 3.2 -91.9 3.1 149.5 3.2 -143.6 3.1 89.7 3.2 -35.3 3.1 26.2 3.2 16.6 3.1 11.4 3.1 -45.2 3.2 -12.4 3.1 -33.5 3.2 56.3 3.1 7 3.2 17.5 3.1 18.7 3.2 -122.9 3.1 10.4 3.1 76.7 3.2 -6.4 3.1 59.1 3.2 -106.1 3.1 34.7 3.2 49.5 3.1 -58.6 3.2 60.4 3.1 -53.6 3.1 34.1 3.2 -9.7 3.1 -26.3 3.2 3.7 3.1 -26.8 3.2 64.1 3.1 48.2 3.2 -121.5"/>
<path d="M198.2 275.8l3.1 50.9 3.1 -0.8 3.2 59.5 3.1 -69.7 3.2 41.5 3.1 -52.7 3.2 2.2 3.1 -63.5 3.2 39 3.1 16.2 3.2 30.1 3.1 -20.6 3.1 0.9 3.2 -4 3.1 83.2 3.2 -101.2 3.1 73.5 3.2 -26.9 3.1 -28.4 3.2 18.1 3.1 -90.7 3.1 80.8 3.2 -45.3 3.1 8.9 3.2 38.6 3.1 -11.6 3.2 -35.2 3.1 41.5 3.2 -2.7 3.1 28.5 3.1 -33 3.2 9.4 3.1 15.8 3.2 -44.1 3.1 -26.7 3.2 39.3 3.1 11.8 3.2 -16.4 3.1 21.3 3.2 -89.5 3.1 26.7 3.1 99 3.2 -60.3 3.1 46.7 3.2 -128.2 3.1 149.8 3.2 -63.4 3.1 -47.6 3.2 89.2 3.1 -93.9 3.2 97.5 3.1 31.1 3.1 -78.3 3.2 10.1 3.1 13.4 3.2 98.3 3.1 -108.7 3.2 23.8 3.1 -19.6 3.2 0 3.1 -67.3 3.1 154.1 3.2 -166.3 3.1 57.2 3.2 20.3 3.1 26.2 3.2 -23.5 3.1 -145.9 3.2 134.8 3.1 61.1 3.2 -44.9 3.1 2 3.1 -87.5 3.2 40 3.1 22.5 3.2 -49.2 3.1 73.7 3.2 -43.5 3.1 38.9 3.2 -11.8 3.1 -15.1 3.1 47.1 3.2 -12.8 3.1 56.9 3.2 -68.7 3.1 -6.2 3.2 19.3 3.1 -12.9 3.2 131.6 3.1 -133.5 3.2 0.4 3.1 13.6 3.1 -30 3.2 -65.8 3.1 89 3.2 40.3 3.1 -122.8 3.2 87.9 3.1 -20.9 3.2 38.9 3.1 -45.9 3.1 58 3.2 -67 3.1 19.8 3.2 9.8 3.1 -109.1 3.2 117.1 3.1 -10.2 3.2 -10.7 3.1 0.2 3.1 58.3 3.2 -40.6 3.1 10.9 3.2 -38.6 3.1 -35.7 3.2 59.5 3.1 -4.8 3.2 -7.8 3.1 118.5 3.2 -123.6 3.1 5.6 3.1 21.3 3.2 -0.7 3.1 4.4 3.2 -2.8 3.1 -72.5 3.2 47.1 3.1 -13 3.2 125.6 3.1 -92.3 3.2 2.2 3.1 -12.7 3.1 56.3 3.2 -47.3 3.1 -53.2 3.2 90.7 3.1 -23.5 3.2 27.6 3.1 -31.9 3.2 -35.5 3.1 22.2 3.1 111.7 3.2 -161.2 3.1 56.6 3.2 0.7 3.1 -66.3 3.2 58.3 3.1 29.6 3.2 -3.2 3.1 -0.2 3.1 -9.1 3.2 -12 3.1 -15.9 3.2 -9.5 3.1 73.4 3.2 -144.5 3.1 105.9 3.2 -106.7 3.1 96.3 3.2 -18.8 3.1 5.1 3.1 -1.6 3.2 -48.7 3.1 62.7 3.2 97 3.1 -111.6 3.2 23 3.1 4.5 3.2 -36.9 3.1 18.7 3.2 17 3.1 -39.5 3.1 10 3.2 60.2 3.1 -85.2 3.2 39.4 3.1 -46.7 3.2 69.3 3.1 -43.7 3.2 25.1 3.1 39.4 3.1 32.6 3.2 -56.5 3.1 -49.3 3.2 108 3.1 -24.6 3.2 -82.2 3.1 25.5 3.2 -7.5 3.1 17 3.1 -12.9 3.2 7.6 3.1 -14.5 3.2 -11.1 3.1 20.5 3.2 -68.9 3.1 3.8 3.2 62"/>
<path d="M198.2 275.8l3.1 100.5 3.1 22.9 3.2 -94.6 3.1 20.8 3.2 -24.8 3.1 134.9 3.2 -120.9 3.1 -120.3 3.2 97.2 3.1 152.1 3.2 -116.7 3.1 -28.8 3.1 -8.3 3.2 -35.6 3.1 31.7 3.2 46.8 3.1 -35.3 3.2 30.6 3.1 0.4 3.2 -83 3.1 138.6 3.1 -46.7 3.2 -3.4 3.1 4 3.2 -66.9 3.1 33.2 3.2 -42.7 3.1 36.8 3.2 23.3 3.1 84.1 3.1 -87.9 3.2 -2.3 3.1 14.3 3.2 -20.2 3.1 -41.7 3.2 43.3 3.1 -5 3.2 8.3 3.1 28.7 3.2 -7.6 3.1 -158.9 3.1 133.9 3.2 2.9 3.1 -21.6 3.2 28.9 3.1 8.9 3.2 -23.5 3.1 25.4 3.2 22.9 3.1 -30.1 3.2 49.5 3.1 -51.7 3.1 13.1 3.2 -8.5 3.1 -13.1 3.2 27.3 3.1 -29.4 3.2 75.6 3.1 -87.3 3.2 28.8 3.1 -21.3 3.1 97.6 3.2 -16.8 3.1 -60.5 3.2 49.8 3.1 -51.2 3.2 67.4 3.1 -100 3.2 61 3.1 -28.2 3.2 -11.1 3.1 25.1 3.1 -59 3.2 30.3 3.1 -3.1 3.2 3.4 3.1 -14.5 3.2 19.3 3.1 -39.2 3.2 21.4 3.1 21.5 3.1 -7.9 3.2 -32.1 3.1 35.5 3.2 -11.9 3.1 -13.4 3.2 27.1 3.1 75 3.2 -79.6 3.1 74.8 3.2 -82.2 3.1 27.5 3.1 -71.5 3.2 62.1 3.1 -4.4 3.2 20.1 3.1 -34.5 3.2 45.4 3.1 5.1 3.2 -162.9 3.1 84.7 3.1 -13.2 3.2 -8.2 3.1 41.2 3.2 79.6 3.1 -125.1 3.2 29.8 3.1 15.6 3.2 116 3.1 -130.3 3.1 -29.2 3.2 78.5 3.1 -18.7 3.2 -34.8 3.1 32.5 3.2 -28.1 3.1 23.2 3.2 -27 3.1 30 3.2 71.2 3.1 -46.4 3.1 -101.9 3.2 79 3.1 -83.9 3.2 44.8 3.1 89 3.2 -74.6 3.1 162.6 3.2 -134.7 3.1 -70.2 3.2 139.6 3.1 -94.9 3.1 86.3 3.2 -74.9 3.1 -13.2 3.2 -18.5 3.1 58.3 3.2 12.2 3.1 64.8 3.2 -55.2 3.1 -34.5 3.1 -71.6 3.2 115.1 3.1 -96.2 3.2 42.3 3.1 27.1 3.2 -134.6 3.1 189.8 3.2 -70.2 3.1 5.7 3.1 -103.9 3.2 -14.7 3.1 38.1 3.2 54.5 3.1 -17.3 3.2 -20.6 3.1 34.8 3.2 3.8 3.1 21.8 3.2 10.8 3.1 17.3 3.1 -134.9 3.2 113.1 3.1 98.6 3.2 -115.2 3.1 -2.7 3.2 -109.3 3.1 59.2 3.2 38.4 3.1 23.4 3.2 21.3 3.1 -27.4 3.1 -8.8 3.2 14.1 3.1 -136.7 3.2 120.5 3.1 34.3 3.2 -142.7 3.1 83.5 3.2 21.7 3.1 -6.3 3.1 9.6 3.2 -6.1 3.1 -13.1 3.2 -2.2 3.1 5.6 3.2 42.9 3.1 -10.7 3.2 17 3.1 -49.2 3.1 -3.4 3.2 43 3.1 -31.8 3.2 -106.3 3.1 72.6 3.2 91.3 3.1 -36.5 3.2 -15.9"/>
<path d="M198.2 275.8l3.1 51 3.1 1.2 3.2 -58.7 3.1 40.9 3.2 31.7 3.1 -56.4 3.2 24 3.1 -4.5 3.2 90.1 3.1 0.4 3.2 -18.7 3.1 -66.5 3.1 44.7 3.2 42.5 3.1 -118.3 3.2 58.9 3.1 -14.4 3.2 96.9 3.1 -11.5 3.2 -151.6 3.1 70.1 3.1 -31.3 3.2 40.1 3.1 -26.7 3.2 -2.7 3.1 1.8 3.2 96 3.1 -34.8 3.2 -62 3.1 -28.8 3.1 34.9 3.2 -22.2 3.1 35.3 3.2 -25.1 3.1 -24.9 3.2 85.4 3.1 -55.2 3.2 8.5 3.1 -2.1 3.2 12.9 3.1 -6.9 3.1 36.4 3.2 3.5 3.1 -159 3.2 17.9 3.1 102.4 3.2 -23.6 3.1 33.4 3.2 62.8 3.1 5.4 3.2 -82.7 3.1 -62.9 3.1 55.6 3.2 38.2 3.1 -30.8 3.2 34.7 3.1 5.2 3.2 -28.4 3.1 -17.5 3.2 15.8 3.1 17.9 3.1 -13.9 3.2 -13.9 3.1 -23.2 3.2 11.8 3.1 -48 3.2 120 3.1 -87.2 3.2 50.9 3.1 -10.9 3.2 -13.9 3.1 -8 3.1 -53.4 3.2 68.8 3.1 29.6 3.2 -45.4 3.1 -3.2 3.2 34.1 3.1 -51.4 3.2 -38.6 3.1 107.2 3.1 -49.4 3.2 -30.6 3.1 109 3.2 -77.3 3.1 -3.1 3.2 67.8 3.1 -100.8 3.2 40.7 3.1 2.4 3.2 -15.3 3.1 3.7 3.1 -11.9 3.2 16.8 3.1 -15.2 3.2 80.3 3.1 -57.9 3.2 3.5 3.1 116.7 3.2 -243.8 3.1 125.7 3.1 34.5 3.2 7.5 3.1 -54.1 3.2 13.4 3.1 -13.8 3.2 19.8 3.1 5.9 3.2 -0.4 3.1 -12.7 3.1 6.8 3.2 -21.7 3.1 13.2 3.2 -6.1 3.1 -5.9 3.2 -28.8 3.1 14.4 3.2 9.9 3.1 12.6 3.2 25.1 3.1 -22.7 3.1 -6 3.2 4.7 3.1 2.1 3.2 52.3 3.1 -24 3.2 -50.3 3.1 3.6 3.2 12.8 3.1 46 3.2 -30.5 3.1 -19.2 3.1 29.9 3.2 -39.4 3.1 17.5 3.2 19.3 3.1 13.8 3.2 -45.3 3.1 7.3 3.2 31 3.1 21.1 3.1 -59.5 3.2 5.7 3.1 5.1 3.2 -96.7 3.1 111.1 3.2 24.8 3.1 -90.7 3.2 58.2 3.1 0.5 3.1 -25.3 3.2 44.8 3.1 20.8 3.2 -61.1 3.1 -45.8 3.2 87.5 3.1 -80.5 3.2 39.8 3.1 54.5 3.2 -35.1 3.1 -29.7 3.1 44.1 3.2 66.4 3.1 -88.7 3.2 41.5 3.1 -55 3.2 97.8 3.1 -72.5 3.2 -11 3.1 46.8 3.2 -32.2 3.1 -16.9 3.1 -4.1 3.2 46.9 3.1 -51.6 3.2 86.8 3.1 -91.6 3.2 12.9 3.1 -96.3 3.2 81.1 3.1 58.4 3.1 -35.2 3.2 -10.5 3.1 41.1 3.2 -90.3 3.1 47.9 3.2 15.3 3.1 30.5 3.2 -91.6 3.1 42.1 3.1 42.8 3.2 -41.1 3.1 -96.5 3.2 102.8 3.1 -10.7 3.2 25.1 3.1 -0.1 3.2 -45.5"/>
<path d="M198.2 275.8l3.1 -57.2 3.1 114.8 3.2 -34.2 3.1 -3.8 3.2 6.3 3.1 -16.8 3.2 -0.2 3.1 63.3 3.2 -2 3.1 -23.5 3.2 -20.9 3.1 1.1 3.1 -58.3 3.2 113.3 3.1 -45.1 3.2 5.7 3.1 -9.1 3.2 9.7 3.1 18.9 3.2 -23.9 3.1 28.8 3.1 -33.6 3.2 43 3.1 -28.8 3.2 -18.2 3.1 20.9 3.2 -48.7 3.1 43.3 3.2 -32.3 3.1 34.4 3.1 12.8 3.2 -26.2 3.1 37.9 3.2 -33.4 3.1 -6.6 3.2 -88.3 3.1 99.3 3.2 -67.7 3.1 54.2 3.2 40.8 3.1 45.1 3.1 -166.5 3.2 196 3.1 -137.7 3.2 -4.6 3.1 37.3 3.2 -1.3 3.1 -11.3 3.2 5.2 3.1 16.1 3.2 4.2 3.1 -8.7 3.1 -48.9 3.2 59 3.1 -22.1 3.2 51.9 3.1 -38 3.2 47.3 3.1 -64.5 3.2 -10 3.1 15.3 3.1 1 3.2 -5.6 3.1 28.2 3.2 -35.3 3.1 83.3 3.2 -74.7 3.1 86.1 3.2 -46 3.1 -34.6 3.2 -69.1 3.1 -7 3.1 74.2 3.2 13.1 3.1 -113.8 3.2 80 3.1 -64 3.2 85.3 3.1 -2.7 3.2 -16 3.1 34.6 3.1 -9.2 3.2 -2.2 3.1 -1.3 3.2 -20.4 3.1 18.1 3.2 1.1 3.1 11.7 3.2 -38.5 3.1 109.2 3.2 -86.3 3.1 7.3 3.1 31.7 3.2 -63.9 3.1 17.2 3.2 141.6 3.1 -156.7 3.2 19.1 3.1 11.3 3.2 34.4 3.1 -36.3 3.1 9.8 3.2 -26.2 3.1 20.7 3.2 -81.7 3.1 114.8 3.2 -67 3.1 30.7 3.2 -5.1 3.1 -14.1 3.1 13.6 3.2 66.1 3.1 -68.1 3.2 4.9 3.1 99.6 3.2 -101.2 3.1 93.9 3.2 -83.5 3.1 -20.1 3.2 6.9 3.1 4.5 3.1 -72.9 3.2 67.3 3.1 14.1 3.2 -3.5 3.1 -11.3 3.2 78.4 3.1 29.5 3.2 -45.6 3.1 -125.8 3.2 81.1 3.1 -14.3 3.1 15.8 3.2 -65.2 3.1 51.2 3.2 80.3 3.1 -113.6 3.2 -33.5 3.1 70.6 3.2 -18 3.1 35.8 3.1 -7.6 3.2 70.6 3.1 -77 3.2 53.6 3.1 -37.2 3.2 -77.8 3.1 41.7 3.2 -17.9 3.1 19.6 3.1 -29.6 3.2 1.4 3.1 61.4 3.2 -57.4 3.1 36.7 3.2 1.1 3.1 -46.8 3.2 -48.6 3.1 126.5 3.2 -127.5 3.1 62.9 3.1 49.1 3.2 -15.5 3.1 -4.5 3.2 -4.8 3.1 4 3.2 41.1 3.1 -29.6 3.2 -53.1 3.1 26.1 3.2 15 3.1 -35.4 3.1 46.6 3.2 -2.8 3.1 -20.5 3.2 -20.7 3.1 28.5 3.2 2.6 3.1 -3.5 3.2 -80.5 3.1 129.2 3.1 -33.3 3.2 -84.6 3.1 81 3.2 71.1 3.1 -77.5 3.2 74.5 3.1 -53.6 3.2 -17 3.1 -72.8 3.1 55.9 3.2 6.7 3.1 -32.4 3.2 35.7 3.1 26.3 3.2 60.9 3.1 -84.5 3.2 5.6"/>
<path d="M198.2 275.8l3.1 61.5 3.1 4.7 3.2 12.8 3.1 -8.9 3.2 -48.7 3.1 15.2 3.2 -3.7 3.1 -70.7 3.2 71.9 3.1 12.2 3.2 48.5 3.1 -36.3 3.1 -40.4 3.2 36.6 3.1 -15.6 3.2 18.9 3.1 -24.9 3.2 14.4 3.1 -45.8 3.2 41 3.1 -1.7 3.1 -7.2 3.2 16.9 3.1 -81.4 3.2 65.2 3.1 10.6 3.2 2.6 3.1 -27.1 3.2 9.3 3.1 6.4 3.1 43.4 3.2 -180.5 3.1 68.1 3.2 66.7 3.1 33.6 3.2 -47.1 3.1 8.7 3.2 88.2 3.1 -82.5 3.2 42.8 3.1 -65 3.1 -25.4 3.2 20.3 3.1 92 3.2 -124.9 3.1 46 3.2 20.4 3.1 -25.8 3.2 -58.4 3.1 91.7 3.2 -7.1 3.1 5.9 3.1 -51.7 3.2 136.6 3.1 -152.1 3.2 92.9 3.1 42 3.2 -9 3.1 -42.6 3.2 -21.6 3.1 -22.7 3.1 80.5 3.2 -70.3 3.1 33.6 3.2 -78.2 3.1 64.9 3.2 -17.7 3.1 -11.6 3.2 -50.7 3.1 87.4 3.2 -16.5 3.1 -79.2 3.1 69.2 3.2 -11.1 3.1 31.2 3.2 49 3.1 62.2 3.2 -120.9 3.1 1.7 3.2 34.4 3.1 1.3 3.1 34.9 3.2 -90.7 3.1 63.8 3.2 -118.3 3.1 76.1 3.2 -86.5 3.1 80.3 3.2 53.1 3.1 2.9 3.2 5.6 3.1 -98.5 3.1 -79.7 3.2 192.7 3.1 -162.9 3.2 88.3 3.1 -13.4 3.2 17.1 3.1 -13.9 3.2 39.7 3.1 -14.1 3.1 2.3 3.2 -28.9 3.1 -7.3 3.2 -58.3 3.1 -12.7 3.2 107 3.1 -14.2 3.2 -28.2 3.1 20.4 3.1 3.5 3.2 50.6 3.1 -29.1 3.2 43.9 3.1 -111.7 3.2 16.1 3.1 -99 3.2 211.6 3.1 -91.4 3.2 -10.2 3.1 -8.5 3.1 40.4 3.2 -17.8 3.1 -151.9 3.2 231.2 3.1 -51.4 3.2 -12.9 3.1 -18.7 3.2 -30 3.1 39.2 3.2 -7.2 3.1 -0.5 3.1 7.8 3.2 -2.7 3.1 -0.4 3.2 0.9 3.1 -50.6 3.2 -40.1 3.1 177.4 3.2 -106 3.1 31.5 3.1 -26.9 3.2 -11.7 3.1 4.3 3.2 -1.7 3.1 57.9 3.2 68.9 3.1 -199.1 3.2 65.9 3.1 64.4 3.1 -92.5 3.2 39 3.1 111 3.2 -131.5 3.1 68.1 3.2 -72.3 3.1 45.7 3.2 0.9 3.1 65 3.2 -55.3 3.1 -50.4 3.1 49.1 3.2 72.9 3.1 -161.9 3.2 -1.9 3.1 55.6 3.2 24.1 3.1 59.9 3.2 -18.7 3.1 -50.6 3.2 -26.2 3.1 59.7 3.1 -40.9 3.2 24.6 3.1 -131.2 3.2 107.7 3.1 -78.8 3.2 115.7 3.1 -57.4 3.2 6.1 3.1 21 3.1 17.2 3.2 19.7 3.1 -45.7 3.2 18.8 3.1 5.4 3.2 -3.6 3.1 21.8 3.2 10.9 3.1 -34.1 3.1 -73 3.2 76 3.1 -22.3 3.2 93 3.1 21.8 3.2 -163.5 3.1 71.7 3.2 65"/>
<path d="M198.2 275.8l3.1 114.3 3.1 -69 3.2 -85.8 3.1 103.6 3.2 68.1 3.1 -65.4 3.2 -55.1 3.1 -16.4 3.2 35.4 3.1 26.4 3.2 -9.7 3.1 -4.7 3.1 -14.8 3.2 -0.5 3.1 23.6 3.2 -49.5 3.1 -49.6 3.2 107.9 3.1 -34.1 3.2 -12.6 3.1 8.5 3.1 19 3.2 20.8 3.1 -51.1 3.2 6.3 3.1 9.9 3.2 38.8 3.1 -49.2 3.2 -0.4 3.1 36.8 3.1 -36.8 3.2 -112 3.1 222.5 3.2 -102.4 3.1 43 3.2 10.6 3.1 -39.3 3.2 -9 3.1 6.6 3.2 28.3 3.1 16.9 3.1 -24.9 3.2 -12.6 3.1 10.2 3.2 65.8 3.1 -149.2 3.2 89.1 3.1 -33.4 3.2 20.3 3.1 10.4 3.2 -14.2 3.1 0.9 3.1 -22.3 3.2 61.4 3.1 19.1 3.2 -146 3.1 75.1 3.2 3.1 3.1 -54 3.2 43.1 3.1 14.9 3.1 58.5 3.2 1.3 3.1 -62.5 3.2 -22 3.1 26.6 3.2 64.4 3.1 10.4 3.2 -52.7 3.1 24.7 3.2 -45.9 3.1 27.4 3.1 -127.9 3.2 110.7 3.1 -5.4 3.2 -49.9 3.1 33.3 3.2 -52.1 3.1 38.2 3.2 -51.4 3.1 106.8 3.1 -31.9 3.2 22.4 3.1 49 3.2 -86.5 3.1 -14 3.2 6.3 3.1 -57.6 3.2 205.9 3.1 -132.6 3.2 12.8 3.1 32.7 3.1 -2.4 3.2 -50.8 3.1 10.9 3.2 -98.1 3.1 91.4 3.2 95 3.1 -118.1 3.2 -29.2 3.1 62.3 3.1 48.1 3.2 -129.5 3.1 143.9 3.2 -56.4 3.1 50.6 3.2 2.9 3.1 2.4 3.2 -103 3.1 14 3.1 30.6 3.2 72.2 3.1 -73.7 3.2 -13.4 3.1 81.3 3.2 -22.4 3.1 -52.5 3.2 -29.2 3.1 31 3.2 -4.7 3.1 41.2 3.1 101.9 3.2 -137.5 3.1 23.4 3.2 -11.8 3.1 -12.5 3.2 -20.8 3.1 58.7 3.2 -88.4 3.1 51.7 3.2 1.8 3.1 -15.3 3.1 -7.4 3.2 3.8 3.1 79.9 3.2 -48.5 3.1 -111 3.2 101.9 3.1 -14.6 3.2 -6.3 3.1 46.3 3.1 0.7 3.2 -8 3.1 -61 3.2 32.7 3.1 -72 3.2 65.9 3.1 -102 3.2 111.4 3.1 49.1 3.1 -131.7 3.2 80.7 3.1 -21.7 3.2 9.1 3.1 19.4 3.2 -12.9 3.1 33.1 3.2 -0.7 3.1 8.7 3.2 -9.8 3.1 23.7 3.1 -45.6 3.2 4 3.1 -79.1 3.2 -4.2 3.1 74.2 3.2 -34.1 3.1 52.8 3.2 -37.8 3.1 28.4 3.2 17.7 3.1 -21.9 3.1 35.5 3.2 -33.3 3.1 -5.6 3.2 35.6 3.1 -30 3.2 -7.5 3.1 19.5 3.2 -14 3.1 -16.8 3.1 -33 3.2 70 3.1 -13 3.2 -22.5 3.1 -16.8 3.2 34 3.1 -12.9 3.2 76 3.1 -54.9 3.1 -96.1 3.2 94 3.1 -115.2 3.2 130.3 3.1 -125.8 3.2 169.8 3.1 -76.4 3.2 6.4"/>
<path d="M198.2 275.8l3.1 -51.1 3.1 108 3.2 -31.5 3.1 69.5 3.2 -73.6 3.1 -24.3 3.2 15.6 3.1 -38.8 3.2 35.9 3.1 36.7 3.2 -12.4 3.1 -5.3 3.1 76.7 3.2 -176.8 3.1 111.9 3.2 17.7 3.1 -29.8 3.2 15.3 3.1 -43.3 3.2 -27.3 3.1 137 3.1 -85.7 3.2 -32.6 3.1 76.6 3.2 36.2 3.1 -74.5 3.2 7.9 3.1 -14.2 3.2 47.6 3.1 -13.5 3.1 -32.3 3.2 -21.8 3.1 -42.2 3.2 69 3.1 10.3 3.2 78.8 3.1 -110.5 3.2 30.3 3.1 -4.1 3.2 21.2 3.1 -58.5 3.1 146.3 3.2 -102.8 3.1 -17.1 3.2 15.2 3.1 105.5 3.2 -108.8 3.1 -13.3 3.2 -18.7 3.1 101.7 3.2 -60.6 3.1 -6.3 3.1 -34.5 3.2 57.3 3.1 -120.8 3.2 96.7 3.1 50.3 3.2 12.2 3.1 7.5 3.2 -78.6 3.1 5.7 3.1 -25.8 3.2 9.3 3.1 42.9 3.2 -68.8 3.1 38 3.2 1.4 3.1 -26.4 3.2 65.6 3.1 55.8 3.2 -31.8 3.1 -19.6 3.1 -38.5 3.2 -2.4 3.1 -1.5 3.2 0.8 3.1 43.6 3.2 -37.4 3.1 6.6 3.2 -89.5 3.1 76.1 3.1 -48.8 3.2 50.7 3.1 29.7 3.2 -75.3 3.1 -47 3.2 101.8 3.1 -2.1 3.2 -6.4 3.1 -75.8 3.2 -21.8 3.1 71.2 3.1 20.5 3.2 106.4 3.1 -66.8 3.2 34.1 3.1 -76.4 3.2 15.2 3.1 -123 3.2 117.5 3.1 -3.5 3.1 5.4 3.2 -15.4 3.1 -62.3 3.2 152.5 3.1 -158.7 3.2 46.1 3.1 42.9 3.2 -102.4 3.1 105.1 3.1 -13.7 3.2 9.6 3.1 62.9 3.2 -61.6 3.1 -85.6 3.2 82.4 3.1 -34.2 3.2 -88.9 3.1 102.3 3.2 -13.6 3.1 -19.2 3.1 25.1 3.2 -69.3 3.1 144.8 3.2 38.7 3.1 -96.4 3.2 71.6 3.1 -37.3 3.2 31.8 3.1 -61.3 3.2 53.5 3.1 -30.9 3.1 -18.6 3.2 -13.6 3.1 -88.3 3.2 102.2 3.1 -16.8 3.2 27.1 3.1 -10.8 3.2 -8.7 3.1 -6.9 3.1 106 3.2 -76.1 3.1 -21.9 3.2 9.5 3.1 16.6 3.2 -134.6 3.1 102 3.2 -58.1 3.1 83.1 3.1 -27.7 3.2 8.4 3.1 19.4 3.2 42.4 3.1 -62.6 3.2 -82.5 3.1 88.6 3.2 -23.4 3.1 28.2 3.2 17.6 3.1 65.1 3.1 -16.2 3.2 -65.4 3.1 -0.9 3.2 -12.9 3.1 -1.1 3.2 8.6 3.1 68.8 3.2 -54.4 3.1 -10.1 3.2 39.6 3.1 -65 3.1 48.7 3.2 52.2 3.1 -85.7 3.2 88 3.1 -159.7 3.2 164.9 3.1 -93 3.2 17.8 3.1 -8.8 3.1 102.3 3.2 -50.2 3.1 -65.8 3.2 -23.9 3.1 -12.4 3.2 126.3 3.1 -84.7 3.2 9.5 3.1 -27.3 3.1 26.7 3.2 -14.4 3.1 -24.8 3.2 15.2 3.1 -49.8 3.2 77.7 3.1 -58.8 3.2 70.8"/>
<path d="M198.2 275.8l3.1 -35.4 3.1 234.9 3.2 -176.9 3.1 38.1 3.2 -40 3.1 -29.6 3.2 22.1 3.1 16.2 3.2 -84.4 3.1 187.1 3.2 -58.1 3.1 -104.2 3.1 49.4 3.2 97.8 3.1 -75.7 3.2 23.5 3.1 -86.3 3.2 32.3 3.1 31.4 3.2 -59.6 3.1 72.2 3.1 -47.9 3.2 32.4 3.1 -0.6 3.2 41.8 3.1 -43.2 3.2 97.7 3.1 -92.5 3.2 81.2 3.1 -111.6 3.1 45.6 3.2 71.3 3.1 -89.2 3.2 -10.9 3.1 9 3.2 -100.1 3.1 81.7 3.2 18.8 3.1 7.7 3.2 60.3 3.1 -95.3 3.1 -0.7 3.2 47.3 3.1 38.9 3.2 -51.1 3.1 86.9 3.2 -96.5 3.1 -30.5 3.2 -53 3.1 87.5 3.2 -0.1 3.1 -21.5 3.1 -40.2 3.2 66.4 3.1 41.4 3.2 -19.6 3.1 8 3.2 -2.7 3.1 -44.8 3.2 -0.4 3.1 9.4 3.1 -11.5 3.2 23.5 3.1 1 3.2 -46.9 3.1 30.6 3.2 -47.6 3.1 38.2 3.2 16.8 3.1 -54.6 3.2 53.6 3.1 -2.9 3.1 0.8 3.2 -32.3 3.1 35.4 3.2 15.9 3.1 -23.3 3.2 19.2 3.1 -39.1 3.2 21.6 3.1 -1 3.1 -75.5 3.2 66.8 3.1 23.6 3.2 -44.8 3.1 89.8 3.2 -46.2 3.1 8.7 3.2 -34.9 3.1 9.5 3.2 -8.7 3.1 -72.8 3.1 108.5 3.2 29.8 3.1 -52.3 3.2 20.7 3.1 -24.5 3.2 7 3.1 -42 3.2 38 3.1 16.9 3.1 26.8 3.2 -53.2 3.1 2.5 3.2 -59.5 3.1 48.8 3.2 -41.2 3.1 -46.8 3.2 145 3.1 -66.4 3.1 -16.1 3.2 -6.9 3.1 55 3.2 -51.8 3.1 58.5 3.2 -8.2 3.1 -6.1 3.2 -125.7 3.1 131.2 3.2 -26.9 3.1 24 3.1 133.4 3.2 -131 3.1 -29.9 3.2 55.5 3.1 -51.5 3.2 28.2 3.1 41.7 3.2 -43.8 3.1 0.9 3.2 30.4 3.1 23.8 3.1 -49 3.2 -19.3 3.1 19.4 3.2 -7.4 3.1 59.1 3.2 -51.8 3.1 -12.1 3.2 -7 3.1 41.5 3.1 -17.1 3.2 -5.3 3.1 -42 3.2 31.5 3.1 12.2 3.2 13.3 3.1 -60.1 3.2 8.9 3.1 49.9 3.1 -50.9 3.2 26.7 3.1 15.4 3.2 13.2 3.1 -122.6 3.2 195.4 3.1 -112.1 3.2 8.9 3.1 -29.1 3.2 52.8 3.1 -32.2 3.1 -3.2 3.2 16.9 3.1 17 3.2 -32.7 3.1 2.8 3.2 -34.5 3.1 69.9 3.2 -40.7 3.1 26.3 3.2 22.8 3.1 -126.8 3.1 74 3.2 -8 3.1 26.7 3.2 -93.6 3.1 52 3.2 56.3 3.1 -17.9 3.2 14.3 3.1 -8 3.1 44.3 3.2 -79.1 3.1 40 3.2 -12.7 3.1 34.6 3.2 -23.5 3.1 -34.7 3.2 76.1 3.1 -24.4 3.1 -67.9 3.2 -19 3.1 -15.6 3.2 95.5 3.1 -33.8 3.2 43.6 3.1 -30.1 3.2 12.9"/>
<path d="M198.2 275.8l3.1 48.6 3.1 -43.7 3.2 14.1 3.1 22.5 3.2 -21 3.1 4.9 3.2 20.1 3.1 -18.1 3.2 -4.5 3.1 -52.3 3.2 185.4 3.1 -90.4 3.1 31.3 3.2 -98.4 3.1 -55.8 3.2 87.2 3.1 3.2 3.2 -21.7 3.1 122.7 3.2 -97 3.1 73 3.1 -74.8 3.2 26.7 3.1 -14.4 3.2 -21.7 3.1 21.9 3.2 -45.6 3.1 27 3.2 -2.4 3.1 -55.9 3.1 64.6 3.2 -44.2 3.1 80.5 3.2 -77.5 3.1 7.5 3.2 18.8 3.1 -8.4 3.2 -43 3.1 23.6 3.2 40.2 3.1 -9.2 3.1 -21.6 3.2 110.6 3.1 -70.9 3.2 -9.2 3.1 0.8 3.2 -65.2 3.1 -18.1 3.2 162.6 3.1 -79 3.2 59.5 3.1 -52.5 3.1 -10.9 3.2 12.3 3.1 -4.8 3.2 -7 3.1 26.3 3.2 3.1 3.1 93.2 3.2 -152.7 3.1 80.1 3.1 29.9 3.2 -89.2 3.1 34.1 3.2 -57 3.1 52.6 3.2 -88.4 3.1 30.6 3.2 43.6 3.1 15.5 3.2 -8.1 3.1 -21.7 3.1 -114.4 3.2 135.4 3.1 25.7 3.2 -58.6 3.1 -11.6 3.2 121.1 3.1 -75.1 3.2 9.4 3.1 -31.5 3.1 3.9 3.2 19 3.1 22.2 3.2 -104.1 3.1 164.7 3.2 -101.1 3.1 14.3 3.2 -106.2 3.1 72.1 3.2 33.2 3.1 3.7 3.1 -0.7 3.2 22.1 3.1 -37.4 3.2 -23.7 3.1 95.2 3.2 -54.3 3.1 -93 3.2 55.6 3.1 44.2 3.1 10.4 3.2 24.9 3.1 41.6 3.2 -120.6 3.1 89.7 3.2 -37.4 3.1 22.1 3.2 -44.6 3.1 12.2 3.1 -102.4 3.2 107.1 3.1 -17.6 3.2 -59.8 3.1 39.1 3.2 126.8 3.1 -17.5 3.2 -178.3 3.1 73.2 3.2 23.3 3.1 -10.3 3.1 51.8 3.2 -23.5 3.1 27.6 3.2 -57.4 3.1 -16.4 3.2 2.9 3.1 9.1 3.2 -0.2 3.1 6 3.2 29.5 3.1 -41.5 3.1 -16.1 3.2 0.3 3.1 -21.4 3.2 59.5 3.1 76.8 3.2 -123.9 3.1 -62 3.2 88.6 3.1 27.1 3.1 -3.1 3.2 -96.4 3.1 90.7 3.2 51.7 3.1 -131.8 3.2 71 3.1 72.8 3.2 -22.9 3.1 -3.5 3.1 -39.9 3.2 73.4 3.1 -76.9 3.2 -83.6 3.1 83.5 3.2 -25.9 3.1 3.9 3.2 45.8 3.1 -61.9 3.2 116.6 3.1 -79.3 3.1 3.6 3.2 -30.8 3.1 30.7 3.2 -2.9 3.1 11.5 3.2 -22.6 3.1 20.3 3.2 -47.5 3.1 -14.7 3.2 46.7 3.1 5.2 3.1 -13.9 3.2 -22.3 3.1 26.1 3.2 5.5 3.1 -83 3.2 0 3.1 67.1 3.2 30.7 3.1 -11.4 3.1 -20.7 3.2 22.8 3.1 -13.4 3.2 91.7 3.1 -80.4 3.2 -0.2 3.1 6.1 3.2 -2.4 3.1 -7.8 3.1 35.6 3.2 14.7 3.1 -47.9 3.2 -109.5 3.1 108.1 3.2 34.9 3.1 -16.8 3.2 -13.6"/>
<path d="M198.2 275.8l3.1 4.6 3.1 71.2 3.2 -61.5 3.1 22.7 3.2 -9.5 3.1 40.7 3.2 -33.7 3.1 19.4 3.2 -28 3.1 131.8 3.2 -146 3.1 0.5 3.1 -2.5 3.2 -58.7 3.1 81.4 3.2 58.3 3.1 -57 3.2 6.3 3.1 7.5 3.2 36.1 3.1 -55.2 3.1 -2.2 3.2 32.6 3.1 -18.1 3.2 -0.6 3.1 6.6 3.2 -3.1 3.1 -49.8 3.2 110.6 3.1 -49.9 3.1 -88.2 3.2 58.5 3.1 26.7 3.2 -37 3.1 43.1 3.2 9.5 3.1 55.5 3.2 -33 3.1 -57 3.2 -22.1 3.1 106.3 3.1 -56.1 3.2 -25.5 3.1 -24.3 3.2 30.2 3.1 103.4 3.2 -97.7 3.1 76 3.2 -90.6 3.1 33.7 3.2 -9.1 3.1 -83.9 3.1 12.4 3.2 47.1 3.1 1.7 3.2 8.6 3.1 -1.8 3.2 9.2 3.1 -126.6 3.2 129.6 3.1 2.9 3.1 -32.7 3.2 -7.7 3.1 22.9 3.2 12.2 3.1 -3 3.2 -5.3 3.1 70.5 3.2 -75.5 3.1 22.5 3.2 -40.8 3.1 16.6 3.1 17.9 3.2 74.6 3.1 -89.9 3.2 3 3.1 3.7 3.2 -27.6 3.1 18.7 3.2 54.1 3.1 -40 3.1 -33.2 3.2 -71.7 3.1 118.3 3.2 -25.4 3.1 -7.4 3.2 64 3.1 -60.3 3.2 4.4 3.1 -11.3 3.2 -89.9 3.1 106.5 3.1 -30.6 3.2 5 3.1 25.9 3.2 12.8 3.1 -78.5 3.2 47 3.1 -109 3.2 158.8 3.1 -56.9 3.1 5 3.2 -76.6 3.1 38.9 3.2 38.5 3.1 -9.9 3.2 24.8 3.1 2.4 3.2 -14.8 3.1 11.4 3.1 -20.5 3.2 -13.8 3.1 30.3 3.2 11.7 3.1 -35.3 3.2 -27.5 3.1 71.6 3.2 -38.4 3.1 6.8 3.2 3.2 3.1 -0.6 3.1 21.9 3.2 -7.7 3.1 -133 3.2 37.6 3.1 117 3.2 50.2 3.1 -74.7 3.2 17.5 3.1 -11.5 3.2 48.3 3.1 -64 3.1 15.1 3.2 -6.2 3.1 -29.1 3.2 -52.7 3.1 10.4 3.2 38.7 3.1 41.9 3.2 -32.1 3.1 35.6 3.1 -36.8 3.2 122.4 3.1 -102.6 3.2 -8.4 3.1 38.4 3.2 -52.7 3.1 -55.8 3.2 94.9 3.1 -11.5 3.1 65.6 3.2 -101.4 3.1 23.8 3.2 21.3 3.1 -94.5 3.2 181.1 3.1 -39 3.2 -28.6 3.1 -48.6 3.2 33.4 3.1 -55.2 3.1 97.3 3.2 -50.2 3.1 -28.9 3.2 39.6 3.1 -114.6 3.2 93.1 3.1 10.1 3.2 -29.1 3.1 -65.9 3.2 135.4 3.1 -67.7 3.1 -38.5 3.2 97.7 3.1 -46.4 3.2 -86.7 3.1 57.2 3.2 128.4 3.1 -93.3 3.2 106 3.1 -115.5 3.1 40.9 3.2 -25.7 3.1 17 3.2 -30.8 3.1 14.7 3.2 32.2 3.1 -28.5 3.2 -9.4 3.1 20.3 3.1 -64.1 3.2 129.5 3.1 -96.4 3.2 18.7 3.1 -82.4 3.2 95.2 3.1 -5.7 3.2 44"/>
<path d="M198.2 275.8l3.1 -48.6 3.1 93.3 3.2 10.8 3.1 -12.1 3.2 13.1 3.1 -97.7 3.2 66.7 3.1 123.3 3.2 -112.7 3.1 -19.3 3.2 -53.1 3.1 58.5 3.1 4.4 3.2 -111.5 3.1 129.5 3.2 0.4 3.1 -15.6 3.2 16.4 3.1 -16.4 3.2 26 3.1 5.3 3.1 -27 3.2 -2.9 3.1 105 3.2 -95 3.1 -48.3 3.2 22.3 3.1 33.3 3.2 -59.3 3.1 88.5 3.1 -29.5 3.2 -142.4 3.1 153.6 3.2 -23.4 3.1 60.6 3.2 -41.3 3.1 28.1 3.2 -43.4 3.1 58.1 3.2 -97.5 3.1 28.7 3.1 28.3 3.2 1.5 3.1 -53.3 3.2 -45.9 3.1 93.3 3.2 -70.2 3.1 -20.1 3.2 8.1 3.1 68.5 3.2 64.1 3.1 -80.6 3.1 20.1 3.2 -4.6 3.1 92 3.2 -82.2 3.1 -20.6 3.2 45.1 3.1 -51.4 3.2 -46 3.1 59.7 3.1 7.5 3.2 -99.5 3.1 170.9 3.2 -64.8 3.1 -6.6 3.2 8.5 3.1 64.2 3.2 -79.8 3.1 -1.6 3.2 40.8 3.1 -85.6 3.1 29.3 3.2 -24.9 3.1 102.3 3.2 -65.2 3.1 -62.6 3.2 11.1 3.1 14.6 3.2 35.9 3.1 3.1 3.1 14.2 3.2 -50.9 3.1 53.9 3.2 -17.2 3.1 95.8 3.2 -26.6 3.1 -136.6 3.2 73.5 3.1 -9.9 3.2 72.5 3.1 -59.4 3.1 -117.1 3.2 185 3.1 18.6 3.2 -86.6 3.1 -0.2 3.2 4 3.1 55 3.2 -5.5 3.1 -26.7 3.1 -50.8 3.2 -72.2 3.1 69.2 3.2 56 3.1 -65.2 3.2 44.2 3.1 -17.9 3.2 -27.7 3.1 -30.2 3.1 65.4 3.2 102.6 3.1 -103.1 3.2 -36.5 3.1 49.1 3.2 -13.9 3.1 80 3.2 -38 3.1 -51.5 3.2 -34.1 3.1 43.8 3.1 109.7 3.2 -102.1 3.1 50.1 3.2 -46.6 3.1 -136.6 3.2 105.3 3.1 27.2 3.2 -37.5 3.1 33.1 3.2 2.4 3.1 -12.6 3.1 5.9 3.2 42.5 3.1 31.1 3.2 -94.8 3.1 107.3 3.2 13.9 3.1 -70.6 3.2 94.8 3.1 -110.8 3.1 -15.6 3.2 -1.3 3.1 -22.4 3.2 36.2 3.1 12 3.2 -29.6 3.1 -17.1 3.2 18.8 3.1 13.2 3.1 -14.7 3.2 -40 3.1 50.8 3.2 -51.3 3.1 146.5 3.2 -135.3 3.1 107.9 3.2 -83.7 3.1 32.9 3.2 -10.3 3.1 -14.4 3.1 6.2 3.2 2.3 3.1 -5.2 3.2 24.1 3.1 49.5 3.2 -61.2 3.1 -10.7 3.2 0.8 3.1 -6.3 3.2 21.4 3.1 4.3 3.1 -74.2 3.2 12.9 3.1 32.5 3.2 2.4 3.1 -29.1 3.2 87 3.1 -29.1 3.2 -57 3.1 6.6 3.1 -43.3 3.2 78.8 3.1 -6.3 3.2 45 3.1 -43.2 3.2 3 3.1 79.6 3.2 -95 3.1 -11.2 3.1 -25.1 3.2 112.3 3.1 -10.9 3.2 -29.3 3.1 24.8 3.2 -123.2 3.1 95.1 3.2 -20"/>
<path d="M198.2 275.8l3.1 48.5 3.1 1.5 3.2 -69.9 3.1 95.1 3.2 -80.6 3.1 33.2 3.2 55.6 3.1 -54.8 3.2 61.4 3.1 -124.1 3.2 103 3.1 -68.6 3.1 -38.6 3.2 83.6 3.1 21.4 3.2 -35.7 3.1 29.9 3.2 -37.6 3.1 4.4 3.2 32.9 3.1 -11.1 3.1 -32.4 3.2 99.3 3.1 -150.8 3.2 143.7 3.1 -74 3.2 35.9 3.1 -115.7 3.2 57.2 3.1 -4.8 3.1 5.9 3.2 16.6 3.1 98.8 3.2 -108.9 3.1 1.1 3.2 -11.4 3.1 10.8 3.2 14.3 3.1 0.9 3.2 50.8 3.1 -185.2 3.1 200 3.2 44.8 3.1 -98.9 3.2 -121.8 3.1 76.4 3.2 47.2 3.1 -28.7 3.2 15.3 3.1 90.6 3.2 -80 3.1 -11.2 3.1 -42.7 3.2 92.2 3.1 49.1 3.2 -19.6 3.1 -88.8 3.2 24.1 3.1 -25.6 3.2 -59.6 3.1 79.7 3.1 40.1 3.2 -50 3.1 15.2 3.2 -34.4 3.1 -1.8 3.2 67.1 3.1 35.6 3.2 -156.9 3.1 15.8 3.2 110.5 3.1 -49 3.1 -5.2 3.2 -14.6 3.1 -142.6 3.2 164.5 3.1 118.7 3.2 -98.8 3.1 -30.3 3.2 -6.8 3.1 37.7 3.1 -66.9 3.2 -0.6 3.1 37.5 3.2 4.8 3.1 -5 3.2 85.9 3.1 -88.5 3.2 55.6 3.1 -42.2 3.2 -41.3 3.1 66.9 3.1 -15 3.2 -34.4 3.1 -152.4 3.2 200.4 3.1 -62 3.2 55.6 3.1 -27.6 3.2 -9 3.1 44.5 3.1 -77.2 3.2 -38.4 3.1 81.3 3.2 8.6 3.1 14.6 3.2 -81.1 3.1 58.7 3.2 58.1 3.1 -64.8 3.1 67.6 3.2 -25.8 3.1 35.8 3.2 -156.9 3.1 193.9 3.2 -84.9 3.1 -7.1 3.2 -8 3.1 8.1 3.2 -22.2 3.1 -42.6 3.1 108.1 3.2 -61 3.1 84.7 3.2 -154.3 3.1 70.1 3.2 7.4 3.1 -40.9 3.2 42.4 3.1 -46.3 3.2 17.4 3.1 -32.2 3.1 78.1 3.2 -29.4 3.1 2.2 3.2 9.3 3.1 -79.6 3.2 107.4 3.1 -64.8 3.2 -21.8 3.1 169.5 3.1 -2.1 3.2 -76.7 3.1 -27.6 3.2 -14 3.1 19.7 3.2 -13.2 3.1 -0.3 3.2 5.3 3.1 -1.4 3.1 -37.5 3.2 53.3 3.1 -6.9 3.2 -10.7 3.1 -2.2 3.2 63.8 3.1 -97.7 3.2 9.6 3.1 30.8 3.2 20.8 3.1 -31 3.1 -94.9 3.2 185.8 3.1 -149.2 3.2 -25.6 3.1 120.7 3.2 2 3.1 -34.7 3.2 -32.9 3.1 87 3.2 26.1 3.1 -92.5 3.1 70.5 3.2 -88.4 3.1 32 3.2 -7.4 3.1 0.5 3.2 25.9 3.1 -25.5 3.2 17.9 3.1 -52.5 3.1 48 3.2 -13.8 3.1 17.8 3.2 -6 3.1 3.6 3.2 -6 3.1 -75.2 3.2 38.6 3.1 29.3 3.1 -86.4 3.2 67.7 3.1 14 3.2 7.4 3.1 38.8 3.2 -34.9 3.1 1.3 3.2 74.9"/>
<path d="M198.2 275.8l3.1 85.3 3.1 -116.9 3.2 52.5 3.1 8.7 3.2 -11 3.1 22.8 3.2 -17.7 3.1 124.9 3.2 -106 3.1 -7.9 3.2 -19 3.1 22.2 3.1 -14.5 3.2 26.9 3.1 -101.8 3.2 88.1 3.1 -38.7 3.2 71.1 3.1 -111.9 3.2 83.4 3.1 14.5 3.1 10.9 3.2 84.6 3.1 -86.5 3.2 -137.8 3.1 68 3.2 37.8 3.1 61.5 3.2 -61.4 3.1 34.9 3.1 47.8 3.2 -94.4 3.1 -59.1 3.2 80.9 3.1 -33.8 3.2 -32.5 3.1 94.6 3.2 -27.4 3.1 -10.9 3.2 -7.9 3.1 39.8 3.1 -25.1 3.2 4.2 3.1 -49.7 3.2 137.7 3.1 -72.2 3.2 -13.2 3.1 -17.4 3.2 -16.4 3.1 45.8 3.2 -98.3 3.1 92.5 3.1 -42.1 3.2 3 3.1 -7 3.2 40.6 3.1 -86.6 3.2 92.6 3.1 -45.7 3.2 22.7 3.1 -3 3.1 -12.5 3.2 49.8 3.1 9 3.2 -103.9 3.1 84.2 3.2 48.5 3.1 -210.2 3.2 162.5 3.1 22 3.2 -59.8 3.1 57 3.1 -13.5 3.2 -59.7 3.1 55.8 3.2 -166.3 3.1 142.1 3.2 -57.2 3.1 55.1 3.2 -0.4 3.1 17.3 3.1 -9.3 3.2 1 3.1 -2.1 3.2 -19.1 3.1 64.3 3.2 -13.1 3.1 47.9 3.2 -152.6 3.1 67.2 3.2 0.6 3.1 10.6 3.1 -43.3 3.2 42.8 3.1 -58.1 3.2 58.7 3.1 -7.2 3.2 9 3.1 114.3 3.2 -173.7 3.1 102.1 3.1 -12.8 3.2 -63 3.1 20.4 3.2 -7.6 3.1 -86.7 3.2 35.2 3.1 -5.7 3.2 68.1 3.1 -61.8 3.1 86.3 3.2 -13.7 3.1 -38.3 3.2 30.6 3.1 -1.4 3.2 7.5 3.1 -88.5 3.2 168.7 3.1 -136.5 3.2 17.5 3.1 29.6 3.1 1.6 3.2 30.6 3.1 -98.2 3.2 -46.8 3.1 124.9 3.2 -76.7 3.1 73.2 3.2 1 3.1 -1 3.2 5.6 3.1 21.2 3.1 7.1 3.2 -160.9 3.1 120 3.2 -9.5 3.1 -8.8 3.2 -73.2 3.1 161.7 3.2 -36.2 3.1 -35.7 3.1 -15.3 3.2 65 3.1 -39.9 3.2 17.1 3.1 -28.9 3.2 -3 3.1 -1.9 3.2 37.9 3.1 -22.1 3.1 -25.2 3.2 35.6 3.1 -10.7 3.2 -9 3.1 -31.2 3.2 11.5 3.1 25.7 3.2 53.7 3.1 -53.2 3.2 22.8 3.1 -10.4 3.1 50.3 3.2 -25.2 3.1 -42.9 3.2 -40.3 3.1 47.1 3.2 -17.8 3.1 17.3 3.2 -118 3.1 107.3 3.2 -27.8 3.1 11 3.1 23 3.2 0.7 3.1 82.2 3.2 -87.6 3.1 -1.8 3.2 -2.8 3.1 7 3.2 -15.5 3.1 -25.9 3.1 78 3.2 -32.9 3.1 1.3 3.2 -19.6 3.1 13.6 3.2 -15.6 3.1 60.5 3.2 -58.3 3.1 -24 3.1 -8.3 3.2 45.3 3.1 0.9 3.2 -9.7 3.1 5.6 3.2 73.2 3.1 -55.7 3.2 -12.2"/>
<path d="M198.2 275.8l3.1 58.2 3.1 42.4 3.2 -75.5 3.1 19.5 3.2 -24.2 3.1 9.1 3.2 1.7 3.1 -41.3 3.2 47.5 3.1 1 3.2 63.3 3.1 -153.1 3.1 87.4 3.2 -25.8 3.1 40.7 3.2 -7.9 3.1 27.3 3.2 -47 3.1 18.2 3.2 -9.7 3.1 -39.6 3.1 32.6 3.2 -56.9 3.1 70.9 3.2 -117.9 3.1 98.4 3.2 39.7 3.1 -30 3.2 96.8 3.1 -45.2 3.1 -56.9 3.2 29.4 3.1 -78.5 3.2 73.6 3.1 -9.1 3.2 -17.9 3.1 25.5 3.2 -8.3 3.1 6.6 3.2 32.6 3.1 38.7 3.1 -15.1 3.2 44.2 3.1 -128.7 3.2 26.7 3.1 11.7 3.2 -18.1 3.1 -17.1 3.2 64.3 3.1 -19.6 3.2 3.9 3.1 -80.5 3.1 95.9 3.2 -78.2 3.1 41.2 3.2 -99.9 3.1 82.6 3.2 20.3 3.1 -86.6 3.2 47.7 3.1 2.5 3.1 50.6 3.2 -64.5 3.1 1.7 3.2 26.6 3.1 25.2 3.2 19.4 3.1 -101.7 3.2 63.5 3.1 18.5 3.2 135.5 3.1 -212.5 3.1 19.8 3.2 40.3 3.1 -106.2 3.2 123.6 3.1 -45.8 3.2 74.4 3.1 -95 3.2 45.2 3.1 -40.9 3.1 49.7 3.2 -18 3.1 -21.6 3.2 58.1 3.1 -128 3.2 132.7 3.1 -46.2 3.2 39.8 3.1 -21.9 3.2 -3 3.1 -33.4 3.1 72.3 3.2 -24.5 3.1 -12.8 3.2 21.6 3.1 -7.1 3.2 -4.3 3.1 -8.7 3.2 77.8 3.1 -78.9 3.1 50.4 3.2 -60.7 3.1 -63 3.2 105.1 3.1 -48.4 3.2 25.3 3.1 -48.3 3.2 46.8 3.1 85.7 3.1 -24.5 3.2 -60.8 3.1 -6.9 3.2 -58.6 3.1 70.7 3.2 -24.1 3.1 45.3 3.2 -112.7 3.1 78.2 3.2 20.8 3.1 -22.6 3.1 -63.4 3.2 91.9 3.1 15.4 3.2 -1 3.1 -21.4 3.2 -33.1 3.1 17.8 3.2 1.5 3.1 -6.9 3.2 -29.5 3.1 30.5 3.1 38 3.2 32.8 3.1 -72.5 3.2 18.9 3.1 -26.5 3.2 16.8 3.1 -13.1 3.2 99.6 3.1 24 3.1 -104.6 3.2 -3.2 3.1 -48.1 3.2 46.4 3.1 81.4 3.2 -142.1 3.1 111.5 3.2 -3.7 3.1 -48.2 3.1 17.4 3.2 -145.8 3.1 131.3 3.2 -34.4 3.1 31.3 3.2 -93.2 3.1 67.3 3.2 23.8 3.1 -45 3.2 122.7 3.1 -80.9 3.1 -6.6 3.2 11.1 3.1 35 3.2 -104.6 3.1 137.5 3.2 -52.6 3.1 -15.5 3.2 -10.6 3.1 14.4 3.2 -27.6 3.1 17.2 3.1 -13.5 3.2 20.7 3.1 28.4 3.2 50.5 3.1 -66.2 3.2 -83 3.1 68.7 3.2 13.4 3.1 -67.2 3.1 56 3.2 -1.2 3.1 7.7 3.2 -31.7 3.1 -26.7 3.2 36.7 3.1 19.8 3.2 32.4 3.1 -30.8 3.1 -17.9 3.2 6.4 3.1 -110.6 3.2 229.1 3.1 -20 3.2 -77.6 3.1 -28.2 3.2 -3.1"/>
<path d="M198.2 275.8l3.1 55.4 3.1 -27.6 3.2 48.7 3.1 -106 3.2 -43 3.1 2 3.2 102.6 3.1 -114.3 3.2 120.6 3.1 -50.3 3.2 60.6 3.1 -20.4 3.1 -16.7 3.2 99 3.1 -61.8 3.2 -104.9 3.1 165.4 3.2 -67.9 3.1 -37.9 3.2 26.3 3.1 4.7 3.1 -57.8 3.2 69.6 3.1 85.3 3.2 -75.4 3.1 -18.5 3.2 4.4 3.1 -3.9 3.2 -5.4 3.1 -47.7 3.1 138.4 3.2 -150.7 3.1 51 3.2 -64.7 3.1 69.2 3.2 -92.1 3.1 93.7 3.2 5.9 3.1 12.6 3.2 -35.8 3.1 34.2 3.1 -5.2 3.2 7.3 3.1 26.6 3.2 -48.8 3.1 18.9 3.2 31.9 3.1 -53.5 3.2 59.5 3.1 -118.2 3.2 67.2 3.1 -89.4 3.1 107.5 3.2 -25.3 3.1 44.4 3.2 -0.7 3.1 -39.3 3.2 14 3.1 -50.8 3.2 40.4 3.1 -26.9 3.1 -7.1 3.2 64.1 3.1 -8.5 3.2 -5.3 3.1 -60.3 3.2 60.5 3.1 -68.7 3.2 33.6 3.1 40.6 3.2 0.5 3.1 -18.1 3.1 16.6 3.2 30.2 3.1 -21.7 3.2 -40.3 3.1 7.7 3.2 -47.9 3.1 124.1 3.2 -84.7 3.1 45.5 3.1 -66.4 3.2 12.3 3.1 21.9 3.2 -50.3 3.1 47.6 3.2 19 3.1 18.4 3.2 -9.2 3.1 -30.9 3.2 -15.3 3.1 -21.8 3.1 51.1 3.2 22.6 3.1 -31.6 3.2 15.6 3.1 -10.2 3.2 9.4 3.1 23.4 3.2 -39.6 3.1 10.8 3.1 -2.8 3.2 21.4 3.1 -32.4 3.2 1.8 3.1 -109 3.2 131 3.1 13.1 3.2 24 3.1 -8.4 3.1 -34.4 3.2 1.7 3.1 48.4 3.2 -89.5 3.1 101.4 3.2 -53.4 3.1 -6.6 3.2 -56.4 3.1 -44.5 3.2 92.7 3.1 -5.3 3.1 19 3.2 -14.4 3.1 -7 3.2 -109.1 3.1 126.1 3.2 -29.9 3.1 51.9 3.2 -40.1 3.1 10.3 3.2 -9 3.1 26 3.1 -96.3 3.2 59.8 3.1 76.2 3.2 -78.9 3.1 9.9 3.2 55.1 3.1 -56.8 3.2 12 3.1 -86.2 3.1 105.5 3.2 -43.8 3.1 13.9 3.2 -1.2 3.1 16 3.2 -3.4 3.1 -10.1 3.2 0.8 3.1 -2.2 3.1 -5 3.2 -109.4 3.1 61.1 3.2 75.1 3.1 -57.2 3.2 31.3 3.1 -4.4 3.2 19.1 3.1 -73.3 3.2 99.1 3.1 -45.1 3.1 28.1 3.2 -73.1 3.1 -19.1 3.2 133.8 3.1 -55.8 3.2 -17.4 3.1 35.7 3.2 -32.7 3.1 42.9 3.2 -19.5 3.1 17.9 3.1 -64.2 3.2 -14.6 3.1 47.8 3.2 -74 3.1 66.3 3.2 35 3.1 -23.9 3.2 38.8 3.1 -49.3 3.1 3.4 3.2 -19.6 3.1 34.9 3.2 25.7 3.1 -35.1 3.2 -65 3.1 68.2 3.2 2.5 3.1 66.1 3.1 -69.6 3.2 -6.3 3.1 37 3.2 -102.4 3.1 78.6 3.2 19.6 3.1 -16.7 3.2 -10.7"/>
<path d="M198.2 275.8l3.1 15.6 3.1 -46.9 3.2 132.4 3.1 -62.1 3.2 -29 3.1 -54.2 3.2 123.6 3.1 -126.4 3.2 66.6 3.1 17.4 3.2 33.7 3.1 -19.8 3.1 19.8 3.2 -75.4 3.1 49.2 3.2 -50.7 3.1 -36.7 3.2 90 3.1 80.9 3.2 -185.6 3.1 131.9 3.1 -29.1 3.2 12 3.1 -102.6 3.2 76 3.1 29 3.2 -59.9 3.1 87.1 3.2 -31.7 3.1 64 3.1 -36.2 3.2 -70 3.1 25.6 3.2 -3.2 3.1 -27.9 3.2 1.4 3.1 40.1 3.2 -10.2 3.1 -8.2 3.2 -83.1 3.1 83.9 3.1 4.1 3.2 -5.2 3.1 104.6 3.2 -99.4 3.1 -24.1 3.2 59.3 3.1 -43.7 3.2 84.8 3.1 -67.3 3.2 -81.5 3.1 73.6 3.1 -4 3.2 4.4 3.1 -0.4 3.2 58 3.1 -49.4 3.2 6.1 3.1 -27.5 3.2 28.8 3.1 -14.9 3.1 6.7 3.2 38.3 3.1 -18.9 3.2 -18.9 3.1 -14.6 3.2 -34.7 3.1 5.3 3.2 38.4 3.1 22.6 3.2 88.1 3.1 -99.6 3.1 -111.9 3.2 56.4 3.1 34.1 3.2 3.4 3.1 -0.3 3.2 4.3 3.1 -6.1 3.2 -6.7 3.1 26.8 3.1 -15.6 3.2 -0.8 3.1 -28.4 3.2 71.6 3.1 -102.1 3.2 66 3.1 7.4 3.2 -9.8 3.1 -74.1 3.2 68.6 3.1 0.9 3.1 17.6 3.2 72.2 3.1 -126.5 3.2 42.3 3.1 -68.7 3.2 66.1 3.1 122.1 3.2 -185 3.1 74.4 3.1 -26.3 3.2 -75.5 3.1 56.9 3.2 67.7 3.1 -53 3.2 109.3 3.1 -114.2 3.2 6 3.1 53.3 3.1 -47.6 3.2 -12.5 3.1 4.4 3.2 33.7 3.1 3.2 3.2 27.4 3.1 0.7 3.2 -61.9 3.1 13.7 3.2 -40.8 3.1 38 3.1 21.9 3.2 37 3.1 -166.6 3.2 120.1 3.1 -13.2 3.2 21.3 3.1 39 3.2 -65.7 3.1 34.3 3.2 -24.6 3.1 -13.3 3.1 25.1 3.2 -151.1 3.1 132.9 3.2 -40.6 3.1 58.8 3.2 44.4 3.1 -93.5 3.2 28.1 3.1 39.5 3.1 -56.8 3.2 38.9 3.1 -22.1 3.2 15.6 3.1 22.6 3.2 -30.2 3.1 15.3 3.2 139.8 3.1 -131.2 3.1 -76.5 3.2 9 3.1 -23.4 3.2 25.9 3.1 -31.2 3.2 63.2 3.1 7.6 3.2 -13.7 3.1 51.8 3.2 -47.4 3.1 8.6 3.1 -0.3 3.2 32.9 3.1 -22.6 3.2 -33.2 3.1 23.6 3.2 11.4 3.1 -0.1 3.2 -52 3.1 49.5 3.2 39.2 3.1 5.6 3.1 -22.5 3.2 -42.1 3.1 7.8 3.2 -6.6 3.1 -25.7 3.2 45 3.1 -22.6 3.2 35.8 3.1 11.5 3.1 -34.4 3.2 -0.2 3.1 2.7 3.2 28.3 3.1 -27.1 3.2 -77.9 3.1 103.5 3.2 -21.1 3.1 -49.7 3.1 42.4 3.2 6.2 3.1 108.4 3.2 -139.9 3.1 32 3.2 -37.6 3.1 36.4 3.2 3.8"/>
<path d="M198.2 275.8l3.1 42.4 3.1 19.7 3.2 -30.1 3.1 -52.6 3.2 10.3 3.1 38.6 3.2 -18.7 3.1 -7.8 3.2 22.3 3.1 21.8 3.2 0 3.1 -22.2 3.1 -13.4 3.2 14.5 3.1 30.7 3.2 -23.2 3.1 -5.7 3.2 51.5 3.1 -48.9 3.2 -14.7 3.1 20.6 3.1 5.2 3.2 10.6 3.1 -4.3 3.2 -51.1 3.1 43.8 3.2 78 3.1 -43.4 3.2 -45.2 3.1 19.3 3.1 -12 3.2 44.5 3.1 -26.7 3.2 -3.8 3.1 -7.4 3.2 -20.9 3.1 -51.3 3.2 63.9 3.1 14.1 3.2 -9.5 3.1 -12.8 3.1 125.6 3.2 -182.8 3.1 26.3 3.2 72.3 3.1 -22.3 3.2 -29.9 3.1 -10.7 3.2 92.3 3.1 -170.4 3.2 133.9 3.1 44.3 3.1 -85.7 3.2 30.8 3.1 -106.7 3.2 104.3 3.1 -88.5 3.2 92.1 3.1 -24.9 3.2 -61.7 3.1 85.5 3.1 -16.8 3.2 -55.5 3.1 76.2 3.2 -35.1 3.1 55.8 3.2 -106.4 3.1 7.5 3.2 57.6 3.1 4.9 3.2 17.9 3.1 -7.5 3.1 57.4 3.2 -76.2 3.1 -70.4 3.2 35.3 3.1 12.1 3.2 22.6 3.1 24.3 3.2 12 3.1 -45.4 3.1 13.3 3.2 -32.5 3.1 37.3 3.2 19.2 3.1 -40.4 3.2 34.8 3.1 45.4 3.2 -40 3.1 -5.6 3.2 8.2 3.1 -9.8 3.1 -46.5 3.2 -69.3 3.1 -53.5 3.2 167.5 3.1 -47.3 3.2 42.5 3.1 -14 3.2 -112.1 3.1 119.6 3.1 -133.3 3.2 49.1 3.1 103.6 3.2 -24.6 3.1 -4.1 3.2 9.3 3.1 28.6 3.2 -27.4 3.1 -17.6 3.1 -0.5 3.2 140.2 3.1 -210.5 3.2 132.5 3.1 -51.6 3.2 -2.4 3.1 18.2 3.2 -16.1 3.1 6.8 3.2 -7.3 3.1 -18.2 3.1 -12.8 3.2 35.1 3.1 -150.2 3.2 187.3 3.1 -148.3 3.2 101 3.1 5.2 3.2 10.6 3.1 -5.2 3.2 30.3 3.1 -38 3.1 -61.5 3.2 60.1 3.1 10.6 3.2 0.8 3.1 -31.7 3.2 46.5 3.1 -12.9 3.2 -89.3 3.1 50.7 3.1 22.6 3.2 54.6 3.1 -33.1 3.2 -8.3 3.1 -10.9 3.2 -26.6 3.1 30.6 3.2 -60.5 3.1 80.6 3.1 -78 3.2 -6.4 3.1 20.7 3.2 33.3 3.1 1.9 3.2 78.2 3.1 -0.5 3.2 -63.5 3.1 -11.5 3.2 -21.7 3.1 20.9 3.1 95.5 3.2 -85.3 3.1 -48.4 3.2 127.9 3.1 -65.3 3.2 9.3 3.1 27 3.2 15.7 3.1 -41.9 3.2 8.4 3.1 -26 3.1 -42.5 3.2 51 3.1 -44.3 3.2 15.6 3.1 28.4 3.2 74.1 3.1 -60.1 3.2 25.6 3.1 -106.9 3.1 81.7 3.2 -7.8 3.1 -16.6 3.2 -10.3 3.1 22.4 3.2 -43.8 3.1 12 3.2 18.4 3.1 12.8 3.1 3.5 3.2 84.2 3.1 -113.5 3.2 1.3 3.1 36.6 3.2 -19.7 3.1 -79.8 3.2 113.6"/>
<path d="M198.2 275.8l3.1 104.7 3.1 -59.8 3.2 -15.5 3.1 17.7 3.2 -40.6 3.1 23.8 3.2 -30.6 3.1 17.7 3.2 -26 3.1 53.7 3.2 111.6 3.1 -173.5 3.1 162 3.2 -156 3.1 54.6 3.2 26.9 3.1 -37 3.2 -8.5 3.1 40.4 3.2 -31 3.1 16.3 3.1 84 3.2 -69 3.1 -70.5 3.2 16.8 3.1 20.8 3.2 10.8 3.1 -15.6 3.2 -71.7 3.1 91.9 3.1 -98.2 3.2 43.5 3.1 78.8 3.2 30.5 3.1 -89.9 3.2 51 3.1 -28.8 3.2 3.7 3.1 5.2 3.2 -21.4 3.1 4.2 3.1 18.2 3.2 30.3 3.1 -46.2 3.2 55.8 3.1 -40.1 3.2 -47.8 3.1 -0.7 3.2 29.8 3.1 63.5 3.2 -76.4 3.1 -2.9 3.1 -63.7 3.2 186 3.1 0.1 3.2 -84.3 3.1 -46.8 3.2 75.4 3.1 -43.3 3.2 -72 3.1 50 3.1 109.3 3.2 -77.9 3.1 -24 3.2 19.1 3.1 -0.5 3.2 1.2 3.1 38.5 3.2 -30.2 3.1 -26.5 3.2 -13.9 3.1 44.8 3.1 -73.6 3.2 74.2 3.1 -24.2 3.2 2 3.1 -85.1 3.2 93.2 3.1 -2.7 3.2 68.7 3.1 -51.8 3.1 0.7 3.2 -3.7 3.1 9.5 3.2 -9.8 3.1 82.1 3.2 -113.6 3.1 22.5 3.2 -5.1 3.1 -2.2 3.2 -2.1 3.1 13.1 3.1 29.3 3.2 35 3.1 -79.7 3.2 -25.4 3.1 28.6 3.2 -56.3 3.1 135.2 3.2 -74.1 3.1 10 3.1 -72.7 3.2 -15.1 3.1 85.8 3.2 -17.6 3.1 -6.8 3.2 58.8 3.1 -46.3 3.2 38.9 3.1 -78.9 3.1 27.5 3.2 -21.5 3.1 34.6 3.2 96.5 3.1 -119.1 3.2 25.7 3.1 91.9 3.2 -102.7 3.1 -22.3 3.2 -32.9 3.1 89.8 3.1 -31.9 3.2 5.6 3.1 0.5 3.2 14.3 3.1 -32.2 3.2 -6.7 3.1 22.6 3.2 13.3 3.1 65.6 3.2 -114.5 3.1 1.9 3.1 -35.1 3.2 63.9 3.1 -15.9 3.2 -56.9 3.1 57.9 3.2 -68.1 3.1 90.3 3.2 15.7 3.1 -91.4 3.1 89 3.2 -6.9 3.1 -2.6 3.2 -4.5 3.1 82.2 3.2 -24.9 3.1 -12.6 3.2 -59.9 3.1 29.7 3.1 -64.3 3.2 125 3.1 -50.5 3.2 -91.6 3.1 88.8 3.2 74.8 3.1 -89.3 3.2 -12.3 3.1 11.4 3.2 85.5 3.1 -141.8 3.1 -20.9 3.2 69.1 3.1 18.2 3.2 -5 3.1 32.9 3.2 43.1 3.1 -110.8 3.2 5.6 3.1 40.1 3.2 -24.4 3.1 -6.5 3.1 -7 3.2 55.5 3.1 -50.3 3.2 17.9 3.1 -30 3.2 15.9 3.1 -8.1 3.2 31.9 3.1 -66.3 3.1 41.1 3.2 -32.1 3.1 32.6 3.2 -11.7 3.1 15.9 3.2 51.6 3.1 30.8 3.2 -45.8 3.1 -44.9 3.1 -22.3 3.2 37.1 3.1 -7.8 3.2 -106.9 3.1 114.2 3.2 74.1 3.1 -24.3 3.2 -46.9"/>
<path d="M198.2 275.8l3.1 31.8 3.1 8.5 3.2 -15.4 3.1 -5.9 3.2 2 3.1 32.1 3.2 -12.8 3.1 -33.7 3.2 -1.9 3.1 91.7 3.2 -12.7 3.1 -54.3 3.1 -119.6 3.2 159.1 3.1 12.1 3.2 -56.4 3.1 0.5 3.2 35.9 3.1 -31.7 3.2 -3.6 3.1 72.2 3.1 -61.1 3.2 2.2 3.1 -25.7 3.2 -30.2 3.1 50.3 3.2 67.9 3.1 -122.4 3.2 36.2 3.1 47.5 3.1 -64.2 3.2 -12.9 3.1 68.2 3.2 48 3.1 -65.3 3.2 5.1 3.1 20.4 3.2 -22.9 3.1 21.8 3.2 41.7 3.1 -198.6 3.1 186 3.2 -83.8 3.1 -79.4 3.2 103.6 3.1 15.9 3.2 -46.9 3.1 42.1 3.2 -29.2 3.1 50 3.2 -22.9 3.1 0.3 3.1 -41.3 3.2 108.3 3.1 -14.4 3.2 -101.5 3.1 33.8 3.2 -40.1 3.1 87.1 3.2 -42.9 3.1 -2.4 3.1 -67.6 3.2 84.9 3.1 -50.5 3.2 17.2 3.1 37.3 3.2 8.8 3.1 -64.8 3.2 106.6 3.1 -20.6 3.2 -79.1 3.1 51.1 3.1 -13.3 3.2 -6.1 3.1 -59.6 3.2 44.4 3.1 58.9 3.2 -18 3.1 -50.9 3.2 25 3.1 15.6 3.1 -30.5 3.2 -22 3.1 -34.2 3.2 108.5 3.1 -22.8 3.2 12.5 3.1 -21.2 3.2 15.1 3.1 -47 3.2 100.4 3.1 -91.1 3.1 40.5 3.2 -3.2 3.1 -43.7 3.2 30.4 3.1 18.8 3.2 -72.9 3.1 38.7 3.2 21.9 3.1 -70.6 3.1 104.3 3.2 -22.8 3.1 -18.1 3.2 1.2 3.1 -20.4 3.2 47.5 3.1 13.2 3.2 42.8 3.1 -130.7 3.1 37.7 3.2 43.6 3.1 -74 3.2 20.5 3.1 24.8 3.2 9.8 3.1 -75.2 3.2 42.8 3.1 -54.9 3.2 65.9 3.1 12.8 3.1 20.1 3.2 -130.2 3.1 94.3 3.2 13.3 3.1 -130.9 3.2 103 3.1 76.5 3.2 -49.2 3.1 16.7 3.2 -19.4 3.1 32 3.1 -19.9 3.2 -3.3 3.1 -0.6 3.2 -6.9 3.1 -77.1 3.2 90.3 3.1 44.1 3.2 -64.6 3.1 -2.1 3.1 8.1 3.2 2.6 3.1 -86.3 3.2 41.6 3.1 50.6 3.2 -65.6 3.1 90.2 3.2 -29.1 3.1 25.4 3.1 -51 3.2 -69.2 3.1 108 3.2 -97 3.1 109.3 3.2 -88.2 3.1 112.2 3.2 -48.8 3.1 -32.2 3.2 37 3.1 -26.8 3.1 13.1 3.2 6.3 3.1 1.3 3.2 26.8 3.1 -36 3.2 -7.7 3.1 51.4 3.2 -68 3.1 -49.4 3.2 143.8 3.1 -59.3 3.1 -20.4 3.2 18.7 3.1 -14.8 3.2 21.3 3.1 -17.6 3.2 15.9 3.1 -16.4 3.2 -53.2 3.1 48.2 3.1 85.5 3.2 -35 3.1 -42 3.2 -1.1 3.1 9.8 3.2 60.6 3.1 -58.5 3.2 -4 3.1 7.3 3.1 -13.3 3.2 -14 3.1 -13 3.2 11.8 3.1 12.2 3.2 54.2 3.1 -64.1 3.2 -43.1"/>
<path d="M198.2 275.8l3.1 -1.2 3.1 20.2 3.2 1.1 3.1 13.3 3.2 -12.6 3.1 -41.1 3.2 164.1 3.1 -227 3.2 98.3 3.1 37.1 3.2 -6 3.1 39.6 3.1 -32.2 3.2 -17.9 3.1 -92.5 3.2 104.9 3.1 -37.7 3.2 36.4 3.1 -13.2 3.2 -91.7 3.1 162.4 3.1 -96.7 3.2 -36.8 3.1 63.4 3.2 -1.9 3.1 -0.4 3.2 -5 3.1 103 3.2 -98.6 3.1 10.7 3.1 -9.5 3.2 -10 3.1 25.5 3.2 -28.6 3.1 37.2 3.2 -23.9 3.1 10 3.2 -43.7 3.1 33.7 3.2 54.1 3.1 -16.9 3.1 -119.7 3.2 -3.3 3.1 135.6 3.2 -156.6 3.1 118.3 3.2 -51.4 3.1 -29.5 3.2 77.3 3.1 7.3 3.2 -81.8 3.1 93.8 3.1 -90.1 3.2 66 3.1 1.3 3.2 -39.8 3.1 25.2 3.2 45.5 3.1 45.7 3.2 -83.6 3.1 -1.2 3.1 -47.1 3.2 135.1 3.1 -96.5 3.2 -83.4 3.1 65.7 3.2 19 3.1 -6 3.2 15.9 3.1 15.8 3.2 15.7 3.1 -20.1 3.1 -13.2 3.2 13.9 3.1 47.2 3.2 -16.7 3.1 -51.2 3.2 11.5 3.1 -4.9 3.2 30.7 3.1 -48.3 3.1 28 3.2 67.9 3.1 -127.2 3.2 111.4 3.1 37.2 3.2 2.7 3.1 -85.2 3.2 120 3.1 -121.2 3.2 -76 3.1 20.7 3.1 46.2 3.2 87.2 3.1 -88.1 3.2 8.9 3.1 -17.5 3.2 17.1 3.1 -12.4 3.2 83.8 3.1 -68.5 3.1 -93.4 3.2 110.6 3.1 -53.1 3.2 -45.9 3.1 37.9 3.2 103.8 3.1 -126.4 3.2 155.9 3.1 -99.5 3.1 3.4 3.2 -45.3 3.1 3.3 3.2 33.7 3.1 -90.1 3.2 70.7 3.1 27.7 3.2 16.5 3.1 -112.2 3.2 98.7 3.1 -15 3.1 19.9 3.2 -1.1 3.1 49 3.2 -49.8 3.1 -15.7 3.2 -36.6 3.1 62.6 3.2 48.9 3.1 -42.2 3.2 -16.1 3.1 -18.1 3.1 -2.1 3.2 5.3 3.1 -8.5 3.2 12 3.1 -85.3 3.2 99.7 3.1 -12.9 3.2 -20.7 3.1 -10.8 3.1 71.9 3.2 -25.8 3.1 -100.9 3.2 147.5 3.1 -97 3.2 -9.8 3.1 35.6 3.2 -63.9 3.1 40.4 3.1 -61.1 3.2 8.5 3.1 72.6 3.2 40.8 3.1 -96.7 3.2 52.6 3.1 41 3.2 -36.2 3.1 -3.3 3.2 -14.6 3.1 13.1 3.1 22.5 3.2 -15.7 3.1 35.1 3.2 -27.1 3.1 -25.9 3.2 76.6 3.1 -45.2 3.2 53 3.1 10.7 3.2 -23.2 3.1 -46 3.1 -31.3 3.2 37.6 3.1 -48.1 3.2 36.1 3.1 3 3.2 0.1 3.1 -0.3 3.2 10.8 3.1 -38.4 3.1 51.9 3.2 -56.6 3.1 63 3.2 -33.5 3.1 51.5 3.2 -28.7 3.1 -69.5 3.2 51.7 3.1 -42 3.1 92.4 3.2 -12.2 3.1 -52.2 3.2 -16.4 3.1 1 3.2 99.5 3.1 -75.6 3.2 6.2"/>
<path d="M198.2 275.8l3.1 49.9 3.1 -0.2 3.2 -23.8 3.1 86.7 3.2 -48.7 3.1 43.9 3.2 -15.4 3.1 -60.9 3.2 -49.9 3.1 -38.6 3.2 127 3.1 -8.2 3.1 85 3.2 -115.2 3.1 22.2 3.2 -19.7 3.1 68.5 3.2 -63.5 3.1 37.5 3.2 -53.2 3.1 24.9 3.1 -33.2 3.2 63.3 3.1 -47.8 3.2 -7.8 3.1 10.7 3.2 -66.7 3.1 60.8 3.2 30.6 3.1 -21.9 3.1 13.1 3.2 -7.1 3.1 10.5 3.2 -20.3 3.1 -85 3.2 157.3 3.1 -67.2 3.2 -35.2 3.1 33.5 3.2 -7.1 3.1 -91.2 3.1 155.9 3.2 -51.3 3.1 -38.9 3.2 56.9 3.1 73.8 3.2 -67.5 3.1 -44.6 3.2 -99.7 3.1 7.9 3.2 68.7 3.1 85.2 3.1 -82.6 3.2 17.2 3.1 -54.4 3.2 81.3 3.1 -5.5 3.2 8.9 3.1 -98.3 3.2 69.4 3.1 -44 3.1 31.6 3.2 45.5 3.1 21.2 3.2 24.5 3.1 -12.8 3.2 -41.9 3.1 -20.7 3.2 32.4 3.1 6.4 3.2 -21.7 3.1 -81.7 3.1 72.6 3.2 14.7 3.1 -14.6 3.2 -42.4 3.1 74.1 3.2 -13.5 3.1 49.6 3.2 3.1 3.1 -83.6 3.1 -34.6 3.2 81.9 3.1 -107.5 3.2 55.3 3.1 15.4 3.2 17.4 3.1 -2.7 3.2 54.4 3.1 -82.5 3.2 25.4 3.1 15 3.1 65.4 3.2 -75.5 3.1 -3.7 3.2 0.7 3.1 -2.8 3.2 -47.9 3.1 3.3 3.2 58.3 3.1 -17.2 3.1 -77.3 3.2 67.5 3.1 -57.7 3.2 66.4 3.1 -33.5 3.2 149.8 3.1 -37.9 3.2 -88 3.1 5.1 3.1 -7 3.2 8.3 3.1 13 3.2 -51.8 3.1 40.8 3.2 41.9 3.1 -11.9 3.2 -40.1 3.1 4.8 3.2 111.4 3.1 -34.9 3.1 -89.9 3.2 23.7 3.1 -168.2 3.2 232 3.1 -71.6 3.2 1.6 3.1 -54 3.2 5.9 3.1 -2.7 3.2 85 3.1 -66.8 3.1 68.8 3.2 -48.3 3.1 12.8 3.2 -9.4 3.1 -87.4 3.2 55.2 3.1 46.5 3.2 -12.6 3.1 26.3 3.1 33.8 3.2 -60.6 3.1 1.9 3.2 -0.8 3.1 -64.3 3.2 101.2 3.1 -33.4 3.2 9.1 3.1 -14.4 3.1 -5.4 3.2 -18.3 3.1 38.3 3.2 45.2 3.1 -34.5 3.2 83.9 3.1 -106.6 3.2 2.9 3.1 -2.5 3.2 16.9 3.1 -23.1 3.1 -38.7 3.2 48.9 3.1 59.8 3.2 -38.6 3.1 -29 3.2 -89.9 3.1 113.1 3.2 -29.3 3.1 17.1 3.2 -7.7 3.1 7.6 3.1 -19 3.2 31.1 3.1 -8.9 3.2 12.7 3.1 -36 3.2 40.3 3.1 84.5 3.2 -102.9 3.1 -30.3 3.1 145.2 3.2 -101.8 3.1 17 3.2 -38.5 3.1 -5.4 3.2 -70.7 3.1 32.3 3.2 5.6 3.1 119.7 3.1 -75.2 3.2 -4.4 3.1 116.1 3.2 -149.2 3.1 31.7 3.2 0.7 3.1 31.6 3.2 14.1"/>
<path d="M198.2 275.8l3.1 61.1 3.1 -2.4 3.2 -39.8 3.1 25 3.2 -28.5 3.1 -4.1 3.2 70.1 3.1 -50.4 3.2 67.6 3.1 -37.2 3.2 -38.9 3.1 22 3.1 -131.7 3.2 106.6 3.1 -0.8 3.2 12.7 3.1 -18.8 3.2 2.6 3.1 13.5 3.2 19.6 3.1 -2.9 3.1 -102.8 3.2 110.3 3.1 -6.5 3.2 0 3.1 73.1 3.2 -66.6 3.1 -28.2 3.2 16.9 3.1 26 3.1 -46.1 3.2 -2 3.1 39.6 3.2 -28.6 3.1 25.8 3.2 -56.6 3.1 71 3.2 -27.8 3.1 -8.7 3.2 4.2 3.1 24.2 3.1 -113.9 3.2 25.2 3.1 148.5 3.2 -78.2 3.1 53 3.2 -64.6 3.1 88.1 3.2 -100.6 3.1 10.3 3.2 104 3.1 -140.4 3.1 50.9 3.2 -27.7 3.1 29.3 3.2 89.9 3.1 -98.1 3.2 77.4 3.1 -105.3 3.2 103 3.1 -73.2 3.1 -24.2 3.2 26.6 3.1 55.5 3.2 -58.7 3.1 -3.8 3.2 -27.1 3.1 -88.2 3.2 176 3.1 -50.5 3.2 9.3 3.1 -30.3 3.1 90.6 3.2 -78.4 3.1 -32.3 3.2 37 3.1 -1.7 3.2 38.9 3.1 30.3 3.2 -40.3 3.1 -13.2 3.1 -16.8 3.2 -5.7 3.1 -74.1 3.2 71.3 3.1 21 3.2 -21.7 3.1 6.3 3.2 -105 3.1 99.5 3.2 -7.9 3.1 53.1 3.1 3.1 3.2 -24.2 3.1 14.1 3.2 -48.8 3.1 -60.6 3.2 39.7 3.1 28.9 3.2 -1.2 3.1 21.7 3.1 42.3 3.2 -75.6 3.1 99.7 3.2 -75.7 3.1 -20.1 3.2 6 3.1 6.9 3.2 -1.4 3.1 22.5 3.1 55.6 3.2 -57.6 3.1 -28.9 3.2 -40.6 3.1 -6.7 3.2 98.8 3.1 -13.2 3.2 -57.6 3.1 40.3 3.2 -89.4 3.1 76.7 3.1 101 3.2 -81.7 3.1 -128.4 3.2 202.6 3.1 -95.3 3.2 45 3.1 -78 3.2 51.2 3.1 15.3 3.2 35.5 3.1 -52.3 3.1 56.4 3.2 -66.9 3.1 -99.7 3.2 101.2 3.1 -11 3.2 108.5 3.1 -100.8 3.2 6.1 3.1 36.4 3.1 -76.1 3.2 36.5 3.1 19.8 3.2 -85 3.1 76.7 3.2 -23.8 3.1 2.4 3.2 -18.8 3.1 27.8 3.1 -11 3.2 -9.6 3.1 38.3 3.2 -32.8 3.1 -60.8 3.2 108.8 3.1 -14 3.2 -23.4 3.1 19.7 3.2 -68.2 3.1 116.1 3.1 -165.8 3.2 59.9 3.1 158.7 3.2 -117.5 3.1 0.5 3.2 -27.1 3.1 146.3 3.2 -156.3 3.1 22 3.2 -58.6 3.1 75.9 3.1 -31.6 3.2 38.6 3.1 -15.8 3.2 0.7 3.1 2.5 3.2 8.3 3.1 18.9 3.2 -12 3.1 -12.7 3.1 56.6 3.2 -47.5 3.1 5.1 3.2 -92.2 3.1 119.2 3.2 -30.7 3.1 30.5 3.2 -12.3 3.1 -28.4 3.1 -44 3.2 146.6 3.1 -93.8 3.2 1.3 3.1 -68.2 3.2 127.5 3.1 -96.1 3.2 98.5"/>
<path d="M198.2 275.8l3.1 60.9 3.1 -2.6 3.2 -33.4 3.1 -53.5 3.2 39.7 3.1 18.4 3.2 -27.4 3.1 27.9 3.2 28.3 3.1 -54 3.2 -14.2 3.1 -3.7 3.1 102.7 3.2 -173 3.1 136.2 3.2 -116.5 3.1 61 3.2 -32.2 3.1 143.8 3.2 -32.6 3.1 -85.2 3.1 36.2 3.2 28.8 3.1 84.4 3.2 -117.3 3.1 12.3 3.2 102.4 3.1 -204.3 3.2 196 3.1 -153.1 3.1 51.3 3.2 0.1 3.1 6.1 3.2 2.8 3.1 16.4 3.2 -25.2 3.1 115.4 3.2 -71.8 3.1 -104.3 3.2 78.6 3.1 -21.4 3.1 -73.7 3.2 55.1 3.1 19.1 3.2 -4.1 3.1 -65 3.2 106.7 3.1 -66 3.2 38.4 3.1 -81.9 3.2 92.1 3.1 -1.1 3.1 -15.5 3.2 13.4 3.1 0.7 3.2 28 3.1 -43.3 3.2 19 3.1 -121.1 3.2 105.4 3.1 108.4 3.1 -121.1 3.2 -74 3.1 115.3 3.2 -14.3 3.1 3.6 3.2 76.2 3.1 -100.4 3.2 15 3.1 64.2 3.2 -72.4 3.1 30.8 3.1 67.5 3.2 -75.1 3.1 -44.6 3.2 -111.6 3.1 91.4 3.2 51 3.1 -1.3 3.2 -7.1 3.1 -25.6 3.1 37.3 3.2 -20.7 3.1 88.2 3.2 -52.1 3.1 -18.9 3.2 -6.5 3.1 7.1 3.2 -0.6 3.1 0.1 3.2 -8.7 3.1 -78.1 3.1 19.2 3.2 164.1 3.1 -107.6 3.2 10 3.1 -5.1 3.2 57.4 3.1 -51.2 3.2 -8.6 3.1 16.9 3.1 -15.4 3.2 55.2 3.1 71.1 3.2 -117.3 3.1 -30.4 3.2 29.9 3.1 -2.1 3.2 -10 3.1 -15.8 3.1 -7.7 3.2 158.3 3.1 -119.4 3.2 85.9 3.1 -108.1 3.2 -63.8 3.1 76.1 3.2 16.7 3.1 -19.3 3.2 19.8 3.1 -51.1 3.1 23.8 3.2 94.5 3.1 -112.5 3.2 -26.9 3.1 6 3.2 43.5 3.1 48.3 3.2 51.6 3.1 -118.5 3.2 36.2 3.1 16.5 3.1 19.6 3.2 -60.5 3.1 30.7 3.2 -2.2 3.1 -36.8 3.2 -2.9 3.1 118.6 3.2 -80.3 3.1 -49.6 3.1 48.2 3.2 0.2 3.1 -29.1 3.2 43.6 3.1 21.8 3.2 -48.9 3.1 -88.3 3.2 66.7 3.1 33.9 3.1 -57.1 3.2 52.2 3.1 40.3 3.2 -2.7 3.1 -51.3 3.2 -25.4 3.1 15.8 3.2 5.6 3.1 21.7 3.2 -48.7 3.1 -42.5 3.1 130.1 3.2 -83.4 3.1 54.8 3.2 -28.4 3.1 0.1 3.2 -44.4 3.1 58.2 3.2 -72.9 3.1 66.3 3.2 18 3.1 -11.9 3.1 -36.4 3.2 54.5 3.1 -68.7 3.2 41.1 3.1 30 3.2 3.6 3.1 -36 3.2 -84.2 3.1 66.4 3.1 30.5 3.2 5 3.1 -65.2 3.2 47.7 3.1 3.1 3.2 14.6 3.1 -52 3.2 41.5 3.1 -86.8 3.1 76.1 3.2 45.7 3.1 1.1 3.2 -39.2 3.1 108.1 3.2 -136.6 3.1 -39 3.2 109.9"/>
<path d="M198.2 275.8l3.1 51.7 3.1 106.2 3.2 -136.4 3.1 15.1 3.2 -35.1 3.1 149.4 3.2 -101.9 3.1 0.9 3.2 -8.6 3.1 -96.7 3.2 104.1 3.1 57.9 3.1 -195.9 3.2 93.5 3.1 -62.4 3.2 46.4 3.1 -11.5 3.2 108.1 3.1 -139.1 3.2 89.1 3.1 -49.4 3.1 14.7 3.2 37 3.1 80.3 3.2 -86.6 3.1 -68.3 3.2 72.2 3.1 -5.6 3.2 -25.7 3.1 110 3.1 -67.3 3.2 -14.6 3.1 16.7 3.2 -9.3 3.1 -10.6 3.2 -6.8 3.1 -11 3.2 28.8 3.1 -6.6 3.2 65.9 3.1 19.1 3.1 -4.6 3.2 -76.6 3.1 101.1 3.2 -101.6 3.1 9.9 3.2 -10.1 3.1 7.2 3.2 -1 3.1 86.7 3.2 -91.9 3.1 -93.8 3.1 103.3 3.2 -8.5 3.1 -44.3 3.2 50.8 3.1 -9.7 3.2 49 3.1 -58.9 3.2 92.9 3.1 -7.9 3.1 -105.8 3.2 50.4 3.1 58.8 3.2 -71.4 3.1 -58.2 3.2 56.7 3.1 31.7 3.2 -8.8 3.1 -25.6 3.2 -2.4 3.1 5.3 3.1 -7.1 3.2 -6.8 3.1 -144.1 3.2 133.9 3.1 17.8 3.2 123.2 3.1 -133.1 3.2 -45.9 3.1 41.5 3.1 53.7 3.2 -45.9 3.1 -33.6 3.2 53.1 3.1 -31.5 3.2 -13.6 3.1 -28 3.2 161.1 3.1 -29.6 3.2 -80.5 3.1 -0.8 3.1 21.2 3.2 1.8 3.1 -10.6 3.2 -47.3 3.1 107.9 3.2 -56.9 3.1 62.9 3.2 -51 3.1 30.5 3.1 -14.8 3.2 -43.4 3.1 6.6 3.2 -59.9 3.1 48.8 3.2 15.6 3.1 -9.9 3.2 2.3 3.1 -33.1 3.1 37.9 3.2 10.1 3.1 -3.7 3.2 -4.3 3.1 0.2 3.2 -24 3.1 19.9 3.2 -5.1 3.1 8.2 3.2 -15.5 3.1 22.4 3.1 -20.4 3.2 29.7 3.1 -45.7 3.2 -73 3.1 95 3.2 -5.4 3.1 82 3.2 -150.5 3.1 82.2 3.2 -14.7 3.1 23.4 3.1 -10.2 3.2 -131.3 3.1 126.3 3.2 12.5 3.1 34.7 3.2 -25.6 3.1 -29.1 3.2 -5.7 3.1 76.7 3.1 -6.7 3.2 -11.7 3.1 -11.1 3.2 -24.1 3.1 5.6 3.2 -120.8 3.1 101.9 3.2 -32.4 3.1 116.5 3.1 -146.8 3.2 -42.3 3.1 120.1 3.2 -40.7 3.1 19.3 3.2 -67.9 3.1 1.4 3.2 134.7 3.1 35.7 3.2 -171.2 3.1 70.8 3.1 -44.7 3.2 68.6 3.1 12 3.2 -17.5 3.1 -16 3.2 -1.3 3.1 39 3.2 -56.9 3.1 19.1 3.2 44.3 3.1 -4.7 3.1 29 3.2 -48 3.1 -17.8 3.2 20.2 3.1 -1.5 3.2 1 3.1 -17.9 3.2 2.1 3.1 -20.3 3.1 135.3 3.2 -145.4 3.1 58.6 3.2 -42.7 3.1 14.3 3.2 50.1 3.1 -26.3 3.2 -102.3 3.1 82 3.1 38.7 3.2 -21.8 3.1 -94.7 3.2 45.4 3.1 26.6 3.2 -32.1 3.1 60.5 3.2 -20.4"/>
<path d="M198.2 275.8l3.1 17.9 3.1 47.8 3.2 -7.5 3.1 -105.2 3.2 -22.3 3.1 228.4 3.2 -127.5 3.1 60 3.2 -49.3 3.1 81.9 3.2 -163.6 3.1 83.1 3.1 -18.5 3.2 23.3 3.1 21.6 3.2 -31.8 3.1 -82 3.2 17.3 3.1 52.1 3.2 -61.7 3.1 99.5 3.1 -27.1 3.2 23 3.1 75.4 3.2 -219.1 3.1 120.6 3.2 3.9 3.1 10.4 3.2 -5.7 3.1 35.6 3.1 -82 3.2 39.7 3.1 15.6 3.2 -21.3 3.1 38 3.2 -51.3 3.1 16.6 3.2 -4.9 3.1 8.5 3.2 -6.5 3.1 -23.4 3.1 1.1 3.2 51.1 3.1 -68.7 3.2 89.3 3.1 -35 3.2 -12.2 3.1 -12.6 3.2 93.5 3.1 -43.6 3.2 -29.1 3.1 -33.6 3.1 48.3 3.2 -69.5 3.1 139.7 3.2 -84.3 3.1 -23.1 3.2 29.1 3.1 -28.3 3.2 -12.5 3.1 55.1 3.1 -50.4 3.2 -8.7 3.1 50.4 3.2 45.7 3.1 -27.2 3.2 -13.2 3.1 -5.4 3.2 44.3 3.1 -29.4 3.2 -104.5 3.1 65.6 3.1 55.2 3.2 -46.9 3.1 -114.1 3.2 79.9 3.1 73.1 3.2 -60.7 3.1 20 3.2 -77.7 3.1 83.1 3.1 -19.4 3.2 -5.8 3.1 24.3 3.2 79.2 3.1 -138.3 3.2 48.7 3.1 8.8 3.2 -11.4 3.1 -58.6 3.2 31.5 3.1 30.2 3.1 1.8 3.2 81.7 3.1 -88.8 3.2 25.5 3.1 -34.5 3.2 37.2 3.1 -27.9 3.2 110.4 3.1 -120.2 3.1 41.4 3.2 -34.5 3.1 -2.9 3.2 24.4 3.1 -28.2 3.2 -5.2 3.1 -78.8 3.2 200.9 3.1 -67.5 3.1 -133.8 3.2 78.5 3.1 32.9 3.2 -11 3.1 3.2 3.2 -75.7 3.1 71.9 3.2 37.3 3.1 38.6 3.2 -17.9 3.1 -98.7 3.1 63 3.2 -122.4 3.1 75 3.2 29.1 3.1 -27.2 3.2 -8.4 3.1 22 3.2 45.8 3.1 -24.8 3.2 9.8 3.1 -23.9 3.1 13.7 3.2 21.2 3.1 -16.6 3.2 -87.4 3.1 -25.7 3.2 136 3.1 -40.2 3.2 -5 3.1 49.2 3.1 -43.9 3.2 11.8 3.1 -77.8 3.2 60.9 3.1 24 3.2 94.8 3.1 -117.7 3.2 -7.2 3.1 42 3.1 -66.4 3.2 19.4 3.1 104.5 3.2 -97.9 3.1 6 3.2 -18.6 3.1 13.8 3.2 2 3.1 20.3 3.2 4.8 3.1 -28.9 3.1 43.8 3.2 -92.7 3.1 72.4 3.2 -19.8 3.1 12.2 3.2 -20.4 3.1 27.3 3.2 -55.1 3.1 40.6 3.2 -9.9 3.1 15.9 3.1 -16 3.2 -33.4 3.1 87 3.2 -42.5 3.1 -36.8 3.2 21.9 3.1 41.8 3.2 -18.1 3.1 -26.7 3.1 91.2 3.2 -78.3 3.1 12.2 3.2 -26.2 3.1 20.3 3.2 106.3 3.1 -19.7 3.2 -163.2 3.1 84.2 3.1 -62.3 3.2 25.3 3.1 26.6 3.2 56.9 3.1 -114.3 3.2 69.4 3.1 -12.9 3.2 -2.4"/>
<path d="M198.2 275.8l3.1 18.2 3.1 172.4 3.2 -114.4 3.1 51.6 3.2 -108.2 3.1 9.6 3.2 -18.4 3.1 20.8 3.2 8.6 3.1 -93.3 3.2 50.1 3.1 -4.4 3.1 -10.2 3.2 69.5 3.1 -4.4 3.2 -15.2 3.1 30.4 3.2 11 3.1 -45.8 3.2 62.8 3.1 -66.5 3.1 -82.3 3.2 112 3.1 -10.9 3.2 -27.1 3.1 10 3.2 11.3 3.1 40.5 3.2 29.2 3.1 -132.3 3.1 68 3.2 -5.5 3.1 88 3.2 -75.3 3.1 -4 3.2 -44 3.1 147 3.2 -61.7 3.1 -47.1 3.2 0.1 3.1 3.9 3.1 6.9 3.2 70.2 3.1 -99.2 3.2 -34.3 3.1 56.4 3.2 2.7 3.1 -64.4 3.2 41.5 3.1 50.9 3.2 -20.7 3.1 -5 3.1 -15.8 3.2 -28.5 3.1 51.3 3.2 -10.5 3.1 -16.9 3.2 55.7 3.1 -46.2 3.2 -18.1 3.1 -14.5 3.1 115.3 3.2 -96.6 3.1 32.1 3.2 -76.4 3.1 57.1 3.2 -73.4 3.1 49.1 3.2 29.5 3.1 29 3.2 63.6 3.1 -102.8 3.1 -15.1 3.2 -4 3.1 11.3 3.2 -128.4 3.1 146 3.2 3.2 3.1 -15.9 3.2 -15 3.1 -34.1 3.1 51.8 3.2 76.3 3.1 -45.5 3.2 58.5 3.1 -72.9 3.2 34.8 3.1 -45 3.2 4 3.1 -39.2 3.2 -8.7 3.1 54.3 3.1 -45.1 3.2 43.8 3.1 -33.5 3.2 -35.2 3.1 83.4 3.2 -18.2 3.1 -95.9 3.2 108.8 3.1 -21.4 3.1 2.9 3.2 -8.6 3.1 70.5 3.2 -44.3 3.1 -11.7 3.2 -32.1 3.1 -88.7 3.2 90.7 3.1 69 3.1 -59.4 3.2 19.6 3.1 -38.5 3.2 48.8 3.1 -43.3 3.2 -17.2 3.1 -81.7 3.2 144 3.1 22.2 3.2 27.7 3.1 -95.8 3.1 25.8 3.2 -1.5 3.1 22.3 3.2 -70.3 3.1 -48.8 3.2 84.1 3.1 22.8 3.2 -45.9 3.1 29.7 3.2 -32.9 3.1 -26.7 3.1 70.2 3.2 -6.5 3.1 13.7 3.2 -5 3.1 -14.5 3.2 13.1 3.1 4.1 3.2 -16.8 3.1 47.7 3.1 23.8 3.2 -111.3 3.1 74 3.2 -118.6 3.1 78.4 3.2 121.9 3.1 -101.8 3.2 11.1 3.1 -93.1 3.1 61.7 3.2 28.4 3.1 -42.9 3.2 16.1 3.1 -19 3.2 43.8 3.1 -6.9 3.2 -60.1 3.1 64.9 3.2 -119.7 3.1 98.9 3.1 -27.3 3.2 46.7 3.1 18.1 3.2 -39.4 3.1 -23.7 3.2 29.9 3.1 23 3.2 -28.8 3.1 -79.8 3.2 107.4 3.1 -97.9 3.1 69.2 3.2 16.5 3.1 79.3 3.2 -88.1 3.1 1.4 3.2 19.9 3.1 -12.3 3.2 60.4 3.1 -37.3 3.1 -18.6 3.2 -1.8 3.1 1.6 3.2 -12.8 3.1 10.9 3.2 109.1 3.1 -184.5 3.2 112.2 3.1 -34 3.1 -9.8 3.2 49.5 3.1 -14.5 3.2 -66.5 3.1 -1.9 3.2 41.1 3.1 -79 3.2 51.8"/>
<path d="M198.2 275.8l3.1 0.2 3.1 90.5 3.2 -94 3.1 -27.2 3.2 58.8 3.1 -94.5 3.2 125.6 3.1 21.9 3.2 -42.5 3.1 36.9 3.2 -42.9 3.1 27.7 3.1 -35.7 3.2 90.8 3.1 0.2 3.2 -120.6 3.1 41.3 3.2 6.8 3.1 -47.8 3.2 85.7 3.1 -8.4 3.1 -36.5 3.2 11.3 3.1 -6.4 3.2 15.5 3.1 80.8 3.2 -53.6 3.1 -51.3 3.2 -0.4 3.1 2.6 3.1 85 3.2 -65.4 3.1 -91.2 3.2 137.6 3.1 -91.7 3.2 13.9 3.1 21.7 3.2 -5.9 3.1 -73.3 3.2 63.4 3.1 88.2 3.1 -75.6 3.2 0.5 3.1 19.5 3.2 -8.8 3.1 -95.7 3.2 11.5 3.1 42.2 3.2 21.6 3.1 15.8 3.2 -54 3.1 51 3.1 116.4 3.2 -135.2 3.1 42.5 3.2 -3.6 3.1 -81.1 3.2 122.3 3.1 -80.6 3.2 3.7 3.1 4.7 3.1 54.5 3.2 -43.4 3.1 11.6 3.2 -115.7 3.1 83.2 3.2 32.3 3.1 -73.5 3.2 41.6 3.1 28.6 3.2 -8.4 3.1 0.1 3.1 59.3 3.2 -54.2 3.1 -64.1 3.2 -42.9 3.1 6.1 3.2 99.5 3.1 -29.1 3.2 82.8 3.1 -65.9 3.1 36.7 3.2 -65.3 3.1 88.1 3.2 -30.3 3.1 1.7 3.2 -32.9 3.1 -15.2 3.2 57.1 3.1 -107.6 3.2 60.7 3.1 91.3 3.1 -87.4 3.2 13.6 3.1 -61.7 3.2 48.2 3.1 -76.3 3.2 45.4 3.1 55.6 3.2 -52.3 3.1 16.2 3.1 50.2 3.2 -34.8 3.1 23.5 3.2 55.2 3.1 -113 3.2 39.1 3.1 -62.4 3.2 160.7 3.1 -100.5 3.1 79.3 3.2 -108.5 3.1 23 3.2 34.9 3.1 -136.2 3.2 84 3.1 -60.3 3.2 -58 3.1 81.2 3.2 50.1 3.1 -72.4 3.1 76.5 3.2 60.9 3.1 -98.4 3.2 76.2 3.1 -51.9 3.2 31.2 3.1 -21.3 3.2 17.4 3.1 -83.6 3.2 80.8 3.1 -20.8 3.1 34.7 3.2 -28.5 3.1 5.5 3.2 4 3.1 -10.1 3.2 42.2 3.1 -56.5 3.2 19.7 3.1 38.4 3.1 -30.7 3.2 22.1 3.1 -31.6 3.2 9.2 3.1 27.6 3.2 -31.7 3.1 8.4 3.2 67.8 3.1 -71.8 3.1 -20.6 3.2 62.7 3.1 -32.4 3.2 -33.6 3.1 6 3.2 -3.7 3.1 0.6 3.2 -8.2 3.1 36.1 3.2 15.9 3.1 -54.4 3.1 28.6 3.2 1.4 3.1 -15.2 3.2 -17.4 3.1 -24.8 3.2 58.8 3.1 9.4 3.2 -47.8 3.1 -58.7 3.2 137.4 3.1 -62 3.1 -85.8 3.2 186 3.1 -3.7 3.2 -97.8 3.1 -16.8 3.2 47 3.1 -16.4 3.2 15.7 3.1 -26.5 3.1 122.9 3.2 -104.2 3.1 -11.4 3.2 17.2 3.1 -13.2 3.2 4.5 3.1 79.4 3.2 -69.8 3.1 16.8 3.1 51.1 3.2 -58.2 3.1 -117.2 3.2 200.8 3.1 -113.2 3.2 14.8 3.1 -75.2 3.2 -18"/>
</g>
<polyline points="198.2,275.8 201.3,315.4 204.4,360.6 207.6,341.8 210.7,315.4 213.9,319.2 217,307.8 220.2,312.6 223.3,311.6 226.5,297.5 229.6,306 232.8,309.7 235.9,306.9 239,306 242.2,308.8 245.3,304.1 248.5,294.7 251.6,306 254.8,309.7 257.9,312.6 261.1,307.8 264.2,297.5 267.3,307.8 270.5,312.6 273.6,302.2 276.8,290.9 279.9,304.1 283.1,302.2 286.2,273.9 289.4,326.7 292.5,338.9 295.6,339.9 298.8,273.9 301.9,289 305.1,300.3 308.2,296.5 311.4,321 314.5,278.6 317.7,307.8 320.8,294.7 324,284.3 327.1,280.5 330.2,358.7 333.4,321 336.5,338 339.7,360.6 342.8,374.8 346,253.2 349.1,315.4 352.3,338.9 355.4,315.4 358.6,294.7 361.7,278.6 364.8,292.8 368,267.3 371.1,264.5 374.3,264.5 377.4,345.5 380.6,289 383.7,306 386.9,334.2 390,345.5 393.1,371.9 396.3,322.9 399.4,272 402.6,351.2 405.7,322.9 408.9,293.7 412,324.8 415.2,340.8 418.3,296.5 421.5,290.9 424.6,277.7 427.7,298.4 430.9,301.3 434,287.1 437.2,262.6 440.3,257.9 443.5,294.7 446.6,327.6 449.8,260.6" stroke="#1171be" stroke-width="2.67"/>
<polyline points="449.8,260.6 452.9,223 456,177 459.5,700 462.4,215 465.5,72 468.6,398 471.8,251 474.9,285 478.1,472.5 481.2,250 484.4,360 487.5,501.5 490.6,315" stroke="#1171be" stroke-width="2"/>
<polyline points="490.6,315 493.8,293.7 496.9,291.8 500.1,302.2 503.2,307.8 506.4,289 509.5,294.7 512.7,289.9 515.8,407 518.9,289.9 522.1,366 525.2,304.1 528.4,321 531.5,332.3 534.7,325.8 537.8,353.1 541,297.5 544.1,304.1 547.2,313.5 550.4,279.6 553.5,337.1 556.7,315.4 559.8,279.6 563,278.6 566.1,275.8 569.3,278.6 572.4,338.9 575.6,324.8 578.7,315.4 581.8,299.4 585,315.4 588.1,324.8 591.3,334.2 594.4,345.5 597.6,324.8 600.7,324.8 603.9,358.7 607,321 610.2,328.6 613.3,342.7 616.4,297.5 619.6,322 622.7,306 625.9,315.4 629,300.3 632.2,290.9 635.3,284.3 638.5,289.9 641.6,270.2 644.7,304.1 647.9,321 651,319.2 654.2,315.4 657.3,312.6 660.5,305 663.6,311.6 666.8,314.4 669.9,300.3 673,319.2 676.2,306 679.3,302.2 682.5,315.4 685.6,313.5 688.8,325.8 691.9,319.2 695.1,309.7 698.2,305 701.4,306 704.5,289 707.6,289.9 710.8,307.8 713.9,298.4 717.1,321 720.2,368.2 723.4,349.3 726.5,346.5 729.7,350.3 732.8,317.3 736,321 739.1,315.4 742.2,328.6 745.4,314.4 748.5,319.2 751.7,310.7 754.8,311.6 758,308.8 761.1,297.5 764.3,295.6 767.4,289 770.5,288.1 773.7,300.3 776.8,291.8 780,289.9 783.1,284.3 786.3,298.4 789.4,309.7 792.6,308.8 795.7,306.9 798.8,321 802,339.9 805.1,349.3 808.3,384 811.4,285.2 814.6,338 817.7,356.8 820.9,304.1" stroke="#1171be" stroke-width="2.67"/>
<polyline points="44.1,310.4 47.2,293 50.3,304.6 53.5,309 56.6,310.4 59.8,306.8 62.9,308.3 66.1,309.7 69.2,311.2 72.4,314.8 75.5,309.7 78.6,309.7 81.8,309 84.9,304.6 88.1,309 91.2,308.3 94.4,308.3 97.5,302.5 100.7,306.8 103.8,317 107,306.1 110.1,309.7 113.2,294.5 116.4,313.7 119.5,307.6 122.7,323.6 125.8,318.7 129,334.7 132.1,321.1 135.3,295.3 138.4,303.9 141.5,303.9 144.7,305.1 147.8,283 151,291.6 154.1,322.4 157.3,300.2 160.4,296.5 163.6,295.3 166.7,316.2 169.9,302.7 173,301.4 176.1,340.8 179.3,383.9 182.4,311.3 185.6,242.3 188.7,289.1 191.9,310 195,291.6 198.2,275.8 201.3,326.7 204.4,334.2 207.6,298.4 210.7,314.4 213.9,296.5 217,305 220.2,308.8 223.3,306 226.5,314.4 229.6,322 232.8,322 235.9,306 239,301.3 242.2,307.8 245.3,322.9 248.5,307.8 251.6,309.7 254.8,322.9 257.9,305 261.1,310.7 264.2,312.6 267.3,312.6 270.5,326.7 273.6,313.5 276.8,307.8 279.9,308.8 283.1,319.2 286.2,305 289.4,307.8 292.5,325.8 295.6,303.1 298.8,306.9 301.9,328.6 305.1,309.7 308.2,304.1 311.4,297.5 314.5,309.7 317.7,314.4 320.8,310.7 324,308.8 327.1,299.4 330.2,317.3 333.4,318.2 336.5,301.3 339.7,321 342.8,321 346,311.6 349.1,299.4 352.3,311.6 355.4,320.1 358.6,317.3 361.7,315.4 364.8,308.8 368,315.4 371.1,313.5 374.3,320.1 377.4,305 380.6,325.8 383.7,301.3 386.9,306 390,312.6 393.1,300.3 396.3,319.2 399.4,329.5 402.6,303.1 405.7,322.9 408.9,315.4 412,294.7 415.2,313.5 418.3,328.6 421.5,316.3 424.6,318.2 427.7,306.9 430.9,311.6 434,308.8 437.2,306 440.3,307.8 443.5,317.3 446.6,306 449.8,305 452.9,309.7 456,310.7 459.2,305 462.3,311.6 465.5,308.8 468.6,301.3 471.8,316.3 474.9,316.3 478.1,314.4 481.2,306 484.4,306.9 487.5,317.3 490.6,316.3 493.8,322.9 496.9,305 500.1,315.4 503.2,309.7 506.4,319.2 509.5,314.4 512.7,308.8 515.8,312.6 518.9,315.4 522.1,300.3 525.2,306.9 528.4,318.2 531.5,293.7 534.7,315.4 537.8,307.8 541,306.9 544.1,316.3 547.2,309.7 550.4,320.1 553.5,314.4 556.7,310.7 559.8,310.7 563,312.6 566.1,306.9 569.3,302.2 572.4,309.7 575.6,311.6 578.7,309.7 581.8,322.9 585,315.4 588.1,308.8 591.3,321 594.4,306 597.6,296.5 600.7,318.2 603.9,314.4 607,310.7 610.2,322.9 613.3,306.9 616.4,318.2 619.6,303.1 622.7,311.6 625.9,312.6 629,297.5 632.2,325.8 635.3,314.4 638.5,302.2 641.6,324.8 644.7,323.9 647.9,319.2 651,307.8 654.2,311.6 657.3,322.9 660.5,311.6 663.6,303.1 666.8,315.4 669.9,323.9 673,293.7 676.2,313.5 679.3,322.9 682.5,296.5 685.6,308.8 688.8,302.2 691.9,300.3 695.1,301.3 698.2,316.3 701.4,322.9 704.5,297.5 707.6,309.7 710.8,317.3 713.9,315.4 717.1,310.7 720.2,305 723.4,301.3 726.5,321 729.7,292.8 732.8,314.4 736,323.9 739.1,310.7 742.2,295.6 745.4,317.3 748.5,303.1 751.7,306 754.8,306 758,322 761.1,305 764.3,320.1 767.4,301.3 770.5,319.2 773.7,306 776.8,317.3 780,303.1 783.1,309.7 786.3,315.4 789.4,316.3 792.6,315.4 795.7,310.7 798.8,305 802,314.4 805.1,306 808.3,308.8 811.4,305 814.6,317.3 817.7,312.6 820.9,310.7" stroke="#dd5400" stroke-width="2.67"/>
<polyline points="198.2,271.8 201.3,228.4 204.4,245.4 207.6,236 210.7,234.1 213.9,206.8 217,206.8 220.2,214.3 223.3,195.4 226.5,211.5 229.6,224.7 232.8,242.6 235.9,224.7 239,188.8 242.2,192.6 245.3,224.7 248.5,212.4 251.6,232.2 254.8,244.4 257.9,224.7 261.1,219 264.2,214.3 267.3,219 270.5,247.3 273.6,232.2 276.8,202 279.9,239.7 283.1,224.7 286.2,216.2 289.4,234.1 292.5,252 295.6,226.5 298.8,182.3 301.9,240.7 305.1,235 308.2,226.5 311.4,216.2 314.5,249.2 317.7,229.4 320.8,243.5 324,224.7 327.1,180.4 330.2,226.5 333.4,222.8 336.5,206.8 339.7,203 342.8,236.9 346,244.4 349.1,222 352.3,199 355.4,203.7 358.6,242.3 361.7,220.7 364.8,224.4 368,245.2 371.1,221.6 374.3,231 377.4,238.6 380.6,248 383.7,199.9 386.9,240.5 390,242.3 393.1,227.3 396.3,223.5 399.4,270.6 402.6,217.8 405.7,259.3 408.9,240.5 412,167.9 415.2,240.5 418.3,253.7 421.5,246.1 424.6,238.6 427.7,185.8 430.9,221.6 434,164.1 437.2,174.5 440.3,225.4 443.5,255.5 446.6,240.5 449.8,238.6 452.9,227.3 456,237.6 459.2,223.5 462.3,236.7 465.5,240.5 468.6,210.3 471.8,238.6 474.9,235.8 478.1,212.2 481.2,242.3 484.4,216.9 487.5,229.2 490.6,202.8 493.8,212.2 496.9,140 500.1,212.2 503.2,235.8 506.4,231 509.5,193.3 512.7,194.3 515.8,248.9 518.9,181.1 522.1,225.4 525.2,240.5 528.4,244.2 531.5,204.7 534.7,248 537.8,204.7 541,219.7 544.1,249.9 547.2,215 550.4,220.7 553.5,227.3 556.7,169.8 559.8,212.2 563,240.5 566.1,184.9 569.3,179.2 572.4,225.4 575.6,234.8 578.7,236.7 581.8,240.5 585,210.3 588.1,161.3 591.3,208.4 594.4,188.6 597.6,217.8 600.7,258.4 603.9,230.1 607,244.2 610.2,234.8 613.3,246.1 616.4,242.3 619.6,175.4 622.7,214.1 625.9,234.8 629,214.1 632.2,225.4 635.3,214.1 638.5,227.3 641.6,236.7 644.7,244.2 647.9,232.9 651,231 654.2,216.9 657.3,238.6 660.5,199.9 663.6,198.1 666.8,246.1 669.9,238.6 673,219.7 676.2,197.1 679.3,244.2 682.5,214.1 685.6,218.8 688.8,227.3 691.9,231 695.1,221.6 698.2,231 701.4,204.7 704.5,232.9 707.6,212.2 710.8,253.7 713.9,236.7 717.1,231 720.2,214.1 723.4,197.1 726.5,252.7 729.7,199.9 732.8,225.4 736,236.7 739.1,219.7 742.2,216 745.4,263.1 748.5,190.5 751.7,219.7 754.8,219.7 758,192.4 761.1,195.2 764.3,225.4 767.4,246.1 770.5,242.3 773.7,238.6 776.8,259.3 780,233.9 783.1,265.9 786.3,233.9 789.4,240.5 792.6,232.9 795.7,229.2 798.8,210.3 802,248 805.1,206.5 808.3,194.3 811.4,212.2 814.6,242.3 817.7,244.2 820.9,227.3" stroke="#dd5400" stroke-width="2.67" stroke-dasharray="2.67 2.67"/>
<polyline points="198.2,275.8 201.3,387.7 204.4,463.1 207.6,380.2 210.7,401.8 213.9,406.5 217,426.3 220.2,415 223.3,422.6 226.5,394.3 229.6,442.3 232.8,429.2 235.9,378.3 239,437.6 242.2,390.5 245.3,387.7 248.5,374.5 251.6,378.3 254.8,416.9 257.9,403.7 261.1,422.6 264.2,379.2 267.3,406.5 270.5,422.6 273.6,406.5 276.8,380.2 279.9,410.3 283.1,406.5 286.2,400.9 289.4,399 292.5,405.6 295.6,390.5 298.8,399 301.9,400.9 305.1,374.5 308.2,386.8 311.4,390.5 314.5,416 317.7,390.5 320.8,374.5 324,375.4 327.1,386.8 330.2,422.6 333.4,418.8 336.5,408.4 339.7,426.3 342.8,419.7 346,399 349.1,392.4 352.3,386.8 355.4,400.9 358.6,406.5 361.7,376.4 364.8,434.8 368,405.6 371.1,405.6 374.3,408.4 377.4,387.7 380.6,397.1 383.7,424.4 386.9,387.7 390,422.6 393.1,396.2 396.3,387.7 399.4,387.7 402.6,373.6 405.7,378.3 408.9,392.4 412,386.8 415.2,373.6 418.3,399 421.5,458.4 424.6,385.8 427.7,404.7 430.9,400.9 434,395.2 437.2,374.5 440.3,432.9 443.5,427.3 446.6,382 449.8,374.5 452.9,381.1 456,383.9 459.2,382 462.3,383.9 465.5,394.3 468.6,401.8 471.8,402.8 474.9,389.6 478.1,436.7 481.2,387.7 484.4,374.5 487.5,391.5 490.6,395.2 493.8,412.2 496.9,399 500.1,438.6 503.2,370.7 506.4,397.1 509.5,432.9 512.7,413.1 515.8,374.5 518.9,408.4 522.1,360.4 525.2,429.2 528.4,387.7 531.5,368.8 534.7,425.4 537.8,384.9 541,412.2 544.1,404.7 547.2,393.3 550.4,435.8 553.5,376.4 556.7,400.9 559.8,410.3 563,417.8 566.1,399 569.3,393.3 572.4,408.4 575.6,413.1 578.7,380.2 581.8,440.5 585,392.4 588.1,390.5 591.3,400.9 594.4,356.6 597.6,382 600.7,446.1 603.9,403.7 607,383.9 610.2,380.2 613.3,378.3 616.4,373.6 619.6,377.3 622.7,379.2 625.9,389.6 629,393.3 632.2,404.7 635.3,403.7 638.5,431 641.6,423.5 644.7,422.6 647.9,406.5 651,389.6 654.2,372.6 657.3,398.1 660.5,413.1 663.6,381.1 666.8,459.3 669.9,396.2 673,395.2 676.2,383.9 679.3,399.9 682.5,367 685.6,403.7 688.8,408.4 691.9,378.3 695.1,367.9 698.2,404.7 701.4,400.9 704.5,395.2 707.6,388.6 710.8,397.1 713.9,420.7 717.1,409.4 720.2,379.2 723.4,394.3 726.5,428.2 729.7,368.8 732.8,378.3 736,390.5 739.1,378.3 742.2,367.9 745.4,391.5 748.5,390.5 751.7,395.2 754.8,410.3 758,394.3 761.1,410.3 764.3,409.4 767.4,350.9 770.5,419.7 773.7,366 776.8,369.8 780,389.6 783.1,363.2 786.3,422.6 789.4,393.3 792.6,402.8 795.7,380.2 798.8,387.7 802,411.3 805.1,418.8 808.3,427.3 811.4,408.4 814.6,393.3 817.7,379.2 820.9,410.3" stroke="#dd5400" stroke-width="2.67" stroke-dasharray="2.67 2.67"/>
</g>
<g clip-path="url(#ax)" fill="#808080" fill-opacity="0.3">
<rect x="61.4" y="91.7" width="11.6" height="560.3"/>
<rect x="120.1" y="91.7" width="10.5" height="560.3"/>
<rect x="171.4" y="91.7" width="8.5" height="560.3"/>
<rect x="205.0" y="91.7" width="10.4" height="560.3"/>
<rect x="326.5" y="91.7" width="11.5" height="560.3"/>
<rect x="375.7" y="91.7" width="16.8" height="560.3"/>
<rect x="453.2" y="91.7" width="6.3" height="560.3"/>
<rect x="472.1" y="91.7" width="16.7" height="560.3"/>
<rect x="585.2" y="91.7" width="8.5" height="560.3"/>
<rect x="719.4" y="91.7" width="8.3" height="560.3"/>
<rect x="805.2" y="91.7" width="20.1" height="560.3"/>
</g>
<path d="M41.0 91.7V652.0H821.0M75.5 652.0v-8M201.5 652.0v-8M327.5 652.0v-8M453.5 652.0v-8M578.5 652.0v-8M704.5 652.0v-8M41.0 646.5h8M41.0 562.5h8M41.0 478.5h8M41.0 394.5h8M41.0 310.5h8M41.0 227.5h8M41.0 143.5h8" stroke="#262626" stroke-width="1" fill="none"/>
<g font-family="Liberation Sans, Arial, sans-serif" font-size="13.2" fill="#262626">
<text x="75.6" y="669" text-anchor="middle">1950</text>
<text x="201.4" y="669" text-anchor="middle">1960</text>
<text x="327.2" y="669" text-anchor="middle">1970</text>
<text x="453" y="669" text-anchor="middle">1980</text>
<text x="578.8" y="669" text-anchor="middle">1990</text>
<text x="704.6" y="669" text-anchor="middle">2000</text>
<text x="35.6" y="650.2" text-anchor="end">-8</text>
<text x="35.6" y="566.2" text-anchor="end">-6</text>
<text x="35.6" y="482.2" text-anchor="end">-4</text>
<text x="35.6" y="398.2" text-anchor="end">-2</text>
<text x="35.6" y="314.2" text-anchor="end">0</text>
<text x="35.6" y="231.2" text-anchor="end">2</text>
<text x="35.6" y="147.2" text-anchor="end">4</text>
</g>
<text x="431" y="87" text-anchor="middle" font-family="Liberation Sans, Arial, sans-serif" font-size="14.65" font-weight="bold" fill="#262626">Model Simulation</text>
<g fill="#4d4d4d"><circle cx="805.4" cy="79.4" r="1.35"/><circle cx="811.6" cy="79.4" r="1.35"/><circle cx="817.8" cy="79.4" r="1.35"/></g>
<rect x="645.5" y="501.5" width="156" height="60" fill="#fff" stroke="#262626" stroke-width="1"/>
<g fill="none">
<path d="M649 510.8h40" stroke="#1171be" stroke-width="2.67"/>
<path d="M649 524.5h40" stroke="#7f7f7f" stroke-width="1"/>
<path d="M649 538.5h40" stroke="#dd5400" stroke-width="2.67"/>
<path d="M649 552.4h40" stroke="#dd5400" stroke-width="2.67" stroke-dasharray="2.67 2.67"/>
</g>
<g font-family="Liberation Sans, Arial, sans-serif" font-size="12" fill="#262626">
<text x="692.5" y="514.6">TB3MS_Diff</text>
<text x="692.5" y="528.3">Simulated Paths</text>
<text x="692.5" y="542">Simulation Mean</text>
<text x="692.5" y="555.7">Confidence Bounds</text>
</g>
</svg>
</body></html>
